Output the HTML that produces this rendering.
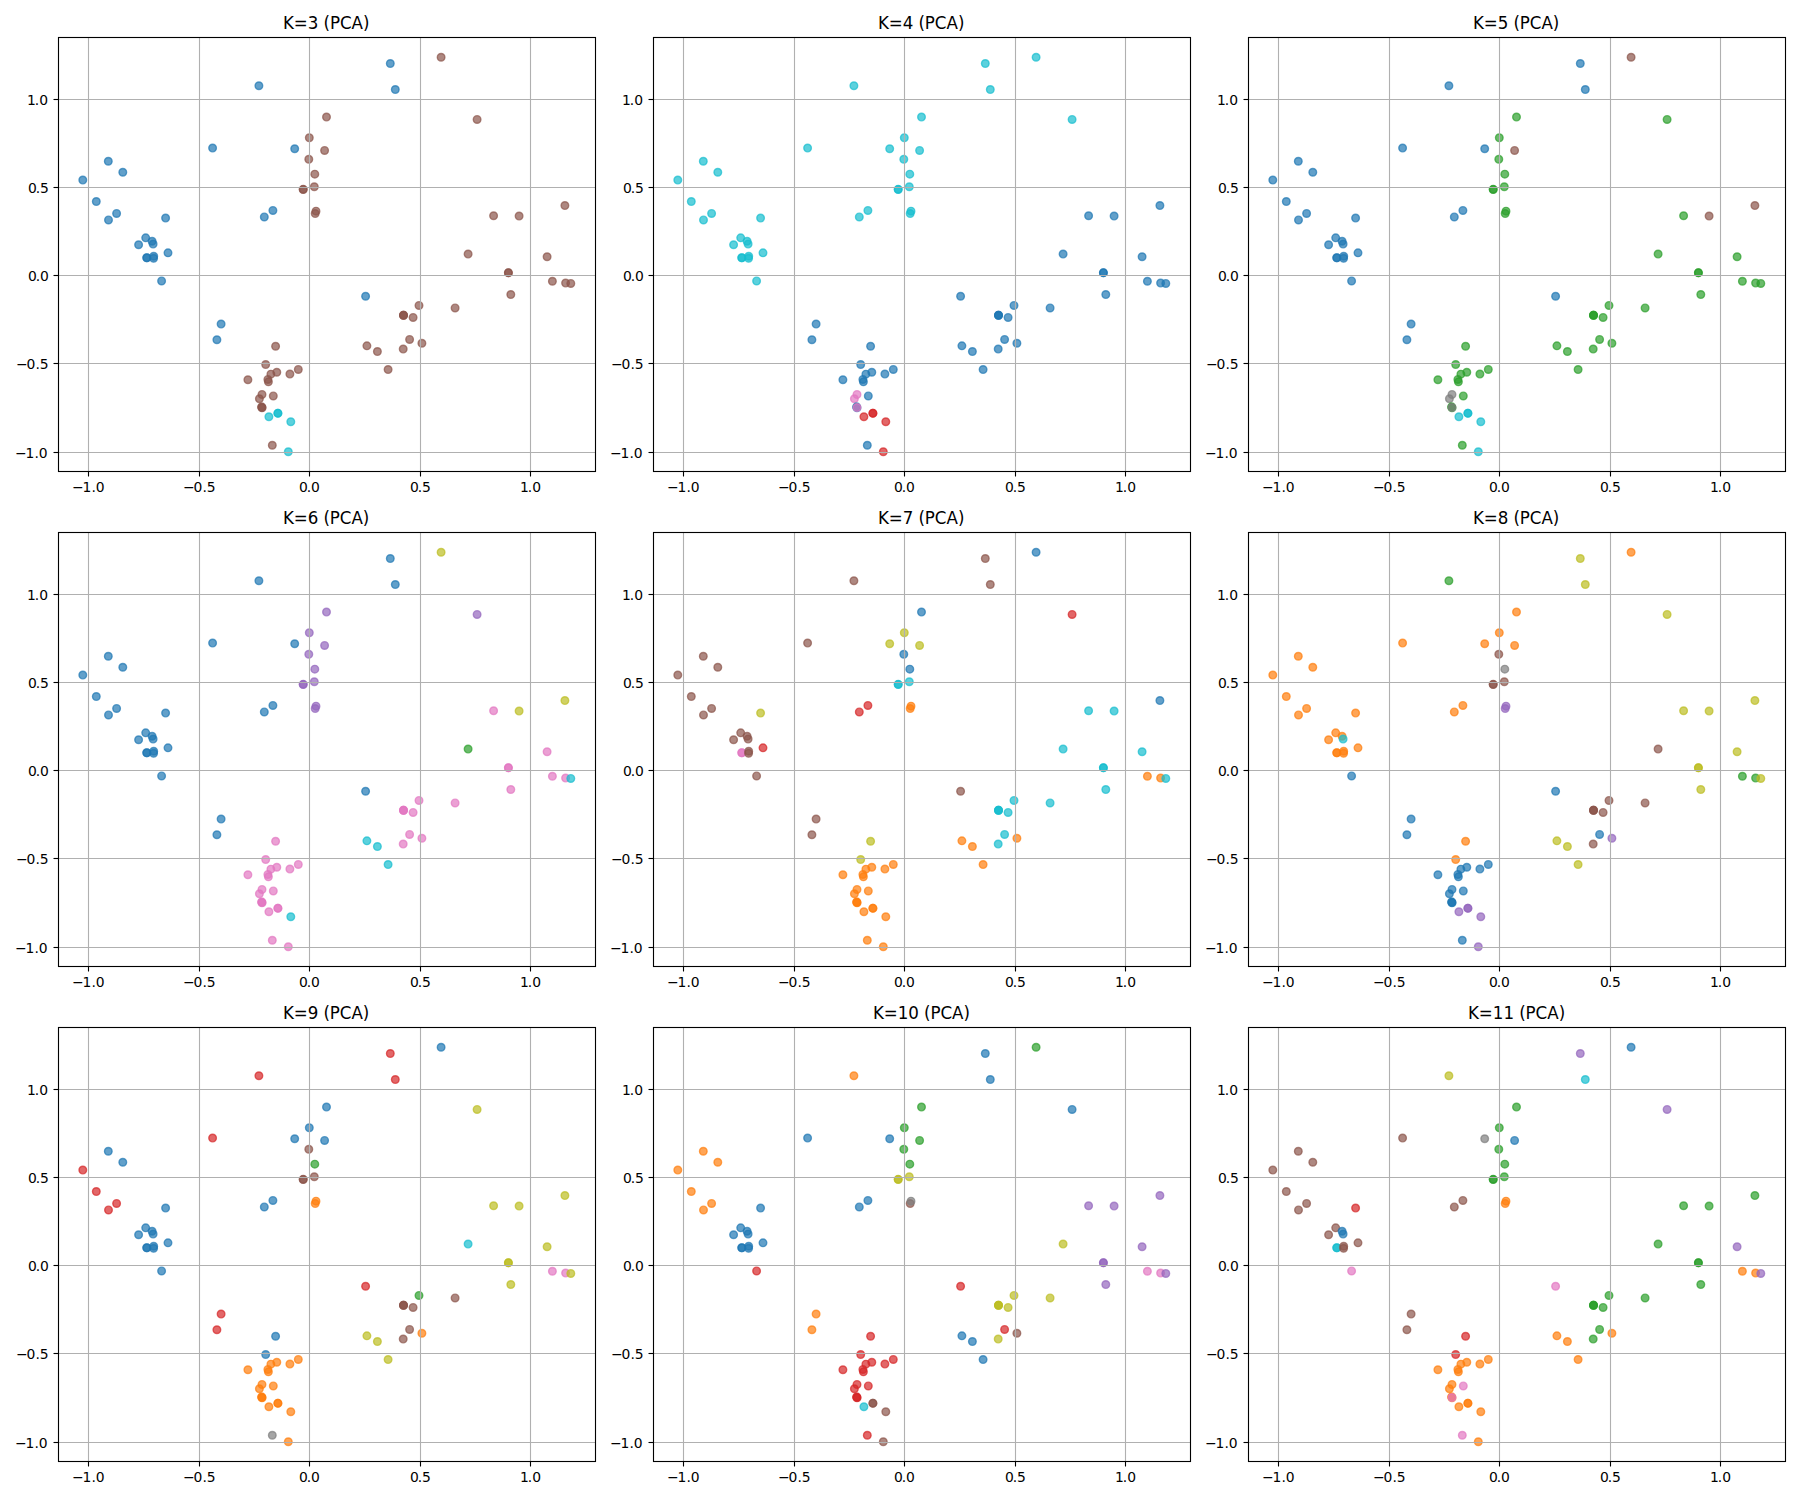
<!DOCTYPE html>
<html><head><meta charset="utf-8"><title>K-means PCA clusters</title>
<style>html,body{margin:0;padding:0;background:#fff;width:1800px;height:1500px;overflow:hidden}</style>
</head><body>
<svg width="1800" height="1500" viewBox="0 0 1800 1500" style="display:block">
<rect x="0" y="0" width="1800" height="1500" fill="#ffffff"/>
<g><circle cx="212.60" cy="148.05" r="3.804" fill="#1f77b4" fill-opacity="0.7" stroke="#1f77b4" stroke-opacity="0.7" stroke-width="1.389"/>
<circle cx="108.30" cy="161.25" r="3.804" fill="#1f77b4" fill-opacity="0.7" stroke="#1f77b4" stroke-opacity="0.7" stroke-width="1.389"/>
<circle cx="122.80" cy="172.25" r="3.804" fill="#1f77b4" fill-opacity="0.7" stroke="#1f77b4" stroke-opacity="0.7" stroke-width="1.389"/>
<circle cx="82.80" cy="180.05" r="3.804" fill="#1f77b4" fill-opacity="0.7" stroke="#1f77b4" stroke-opacity="0.7" stroke-width="1.389"/>
<circle cx="258.90" cy="85.75" r="3.804" fill="#1f77b4" fill-opacity="0.7" stroke="#1f77b4" stroke-opacity="0.7" stroke-width="1.389"/>
<circle cx="390.30" cy="63.55" r="3.804" fill="#1f77b4" fill-opacity="0.7" stroke="#1f77b4" stroke-opacity="0.7" stroke-width="1.389"/>
<circle cx="395.30" cy="89.55" r="3.804" fill="#1f77b4" fill-opacity="0.7" stroke="#1f77b4" stroke-opacity="0.7" stroke-width="1.389"/>
<circle cx="326.50" cy="117.05" r="3.804" fill="#8c564b" fill-opacity="0.7" stroke="#8c564b" stroke-opacity="0.7" stroke-width="1.389"/>
<circle cx="309.30" cy="137.75" r="3.804" fill="#8c564b" fill-opacity="0.7" stroke="#8c564b" stroke-opacity="0.7" stroke-width="1.389"/>
<circle cx="294.70" cy="148.75" r="3.804" fill="#1f77b4" fill-opacity="0.7" stroke="#1f77b4" stroke-opacity="0.7" stroke-width="1.389"/>
<circle cx="324.60" cy="150.45" r="3.804" fill="#8c564b" fill-opacity="0.7" stroke="#8c564b" stroke-opacity="0.7" stroke-width="1.389"/>
<circle cx="308.80" cy="159.25" r="3.804" fill="#8c564b" fill-opacity="0.7" stroke="#8c564b" stroke-opacity="0.7" stroke-width="1.389"/>
<circle cx="314.80" cy="174.15" r="3.804" fill="#8c564b" fill-opacity="0.7" stroke="#8c564b" stroke-opacity="0.7" stroke-width="1.389"/>
<circle cx="441.10" cy="57.25" r="3.804" fill="#8c564b" fill-opacity="0.7" stroke="#8c564b" stroke-opacity="0.7" stroke-width="1.389"/>
<circle cx="477.10" cy="119.45" r="3.804" fill="#8c564b" fill-opacity="0.7" stroke="#8c564b" stroke-opacity="0.7" stroke-width="1.389"/>
<circle cx="96.30" cy="201.55" r="3.804" fill="#1f77b4" fill-opacity="0.7" stroke="#1f77b4" stroke-opacity="0.7" stroke-width="1.389"/>
<circle cx="116.60" cy="213.45" r="3.804" fill="#1f77b4" fill-opacity="0.7" stroke="#1f77b4" stroke-opacity="0.7" stroke-width="1.389"/>
<circle cx="108.50" cy="219.95" r="3.804" fill="#1f77b4" fill-opacity="0.7" stroke="#1f77b4" stroke-opacity="0.7" stroke-width="1.389"/>
<circle cx="165.60" cy="218.05" r="3.804" fill="#1f77b4" fill-opacity="0.7" stroke="#1f77b4" stroke-opacity="0.7" stroke-width="1.389"/>
<circle cx="145.70" cy="237.85" r="3.804" fill="#1f77b4" fill-opacity="0.7" stroke="#1f77b4" stroke-opacity="0.7" stroke-width="1.389"/>
<circle cx="152.10" cy="241.25" r="3.804" fill="#1f77b4" fill-opacity="0.7" stroke="#1f77b4" stroke-opacity="0.7" stroke-width="1.389"/>
<circle cx="153.10" cy="244.05" r="3.804" fill="#1f77b4" fill-opacity="0.7" stroke="#1f77b4" stroke-opacity="0.7" stroke-width="1.389"/>
<circle cx="138.60" cy="244.75" r="3.804" fill="#1f77b4" fill-opacity="0.7" stroke="#1f77b4" stroke-opacity="0.7" stroke-width="1.389"/>
<circle cx="168.00" cy="252.85" r="3.804" fill="#1f77b4" fill-opacity="0.7" stroke="#1f77b4" stroke-opacity="0.7" stroke-width="1.389"/>
<circle cx="146.80" cy="257.80" r="3.804" fill="#1f77b4" fill-opacity="0.7" stroke="#1f77b4" stroke-opacity="0.7" stroke-width="1.389"/>
<circle cx="146.80" cy="257.80" r="3.804" fill="#1f77b4" fill-opacity="0.7" stroke="#1f77b4" stroke-opacity="0.7" stroke-width="1.389"/>
<circle cx="153.70" cy="256.25" r="3.804" fill="#1f77b4" fill-opacity="0.7" stroke="#1f77b4" stroke-opacity="0.7" stroke-width="1.389"/>
<circle cx="153.60" cy="258.35" r="3.804" fill="#1f77b4" fill-opacity="0.7" stroke="#1f77b4" stroke-opacity="0.7" stroke-width="1.389"/>
<circle cx="161.60" cy="280.95" r="3.804" fill="#1f77b4" fill-opacity="0.7" stroke="#1f77b4" stroke-opacity="0.7" stroke-width="1.389"/>
<circle cx="221.10" cy="324.05" r="3.804" fill="#1f77b4" fill-opacity="0.7" stroke="#1f77b4" stroke-opacity="0.7" stroke-width="1.389"/>
<circle cx="216.90" cy="339.75" r="3.804" fill="#1f77b4" fill-opacity="0.7" stroke="#1f77b4" stroke-opacity="0.7" stroke-width="1.389"/>
<circle cx="303.20" cy="189.35" r="3.804" fill="#8c564b" fill-opacity="0.7" stroke="#8c564b" stroke-opacity="0.7" stroke-width="1.389"/>
<circle cx="303.20" cy="189.45" r="3.804" fill="#8c564b" fill-opacity="0.7" stroke="#8c564b" stroke-opacity="0.7" stroke-width="1.389"/>
<circle cx="314.30" cy="186.75" r="3.804" fill="#8c564b" fill-opacity="0.7" stroke="#8c564b" stroke-opacity="0.7" stroke-width="1.389"/>
<circle cx="272.90" cy="210.45" r="3.804" fill="#1f77b4" fill-opacity="0.7" stroke="#1f77b4" stroke-opacity="0.7" stroke-width="1.389"/>
<circle cx="264.30" cy="216.95" r="3.804" fill="#1f77b4" fill-opacity="0.7" stroke="#1f77b4" stroke-opacity="0.7" stroke-width="1.389"/>
<circle cx="315.20" cy="213.55" r="3.804" fill="#8c564b" fill-opacity="0.7" stroke="#8c564b" stroke-opacity="0.7" stroke-width="1.389"/>
<circle cx="316.00" cy="211.15" r="3.804" fill="#8c564b" fill-opacity="0.7" stroke="#8c564b" stroke-opacity="0.7" stroke-width="1.389"/>
<circle cx="365.60" cy="296.25" r="3.804" fill="#1f77b4" fill-opacity="0.7" stroke="#1f77b4" stroke-opacity="0.7" stroke-width="1.389"/>
<circle cx="419.00" cy="305.45" r="3.804" fill="#8c564b" fill-opacity="0.7" stroke="#8c564b" stroke-opacity="0.7" stroke-width="1.389"/>
<circle cx="403.50" cy="315.25" r="3.804" fill="#8c564b" fill-opacity="0.7" stroke="#8c564b" stroke-opacity="0.7" stroke-width="1.389"/>
<circle cx="403.50" cy="315.35" r="3.804" fill="#8c564b" fill-opacity="0.7" stroke="#8c564b" stroke-opacity="0.7" stroke-width="1.389"/>
<circle cx="403.50" cy="315.30" r="3.804" fill="#8c564b" fill-opacity="0.7" stroke="#8c564b" stroke-opacity="0.7" stroke-width="1.389"/>
<circle cx="413.10" cy="317.45" r="3.804" fill="#8c564b" fill-opacity="0.7" stroke="#8c564b" stroke-opacity="0.7" stroke-width="1.389"/>
<circle cx="409.60" cy="339.45" r="3.804" fill="#8c564b" fill-opacity="0.7" stroke="#8c564b" stroke-opacity="0.7" stroke-width="1.389"/>
<circle cx="421.90" cy="343.25" r="3.804" fill="#8c564b" fill-opacity="0.7" stroke="#8c564b" stroke-opacity="0.7" stroke-width="1.389"/>
<circle cx="403.20" cy="349.05" r="3.804" fill="#8c564b" fill-opacity="0.7" stroke="#8c564b" stroke-opacity="0.7" stroke-width="1.389"/>
<circle cx="564.90" cy="205.55" r="3.804" fill="#8c564b" fill-opacity="0.7" stroke="#8c564b" stroke-opacity="0.7" stroke-width="1.389"/>
<circle cx="493.60" cy="215.75" r="3.804" fill="#8c564b" fill-opacity="0.7" stroke="#8c564b" stroke-opacity="0.7" stroke-width="1.389"/>
<circle cx="519.10" cy="216.05" r="3.804" fill="#8c564b" fill-opacity="0.7" stroke="#8c564b" stroke-opacity="0.7" stroke-width="1.389"/>
<circle cx="468.10" cy="254.05" r="3.804" fill="#8c564b" fill-opacity="0.7" stroke="#8c564b" stroke-opacity="0.7" stroke-width="1.389"/>
<circle cx="547.10" cy="256.75" r="3.804" fill="#8c564b" fill-opacity="0.7" stroke="#8c564b" stroke-opacity="0.7" stroke-width="1.389"/>
<circle cx="508.40" cy="272.65" r="3.804" fill="#8c564b" fill-opacity="0.7" stroke="#8c564b" stroke-opacity="0.7" stroke-width="1.389"/>
<circle cx="508.40" cy="272.85" r="3.804" fill="#8c564b" fill-opacity="0.7" stroke="#8c564b" stroke-opacity="0.7" stroke-width="1.389"/>
<circle cx="552.40" cy="281.25" r="3.804" fill="#8c564b" fill-opacity="0.7" stroke="#8c564b" stroke-opacity="0.7" stroke-width="1.389"/>
<circle cx="565.60" cy="283.05" r="3.804" fill="#8c564b" fill-opacity="0.7" stroke="#8c564b" stroke-opacity="0.7" stroke-width="1.389"/>
<circle cx="570.80" cy="283.45" r="3.804" fill="#8c564b" fill-opacity="0.7" stroke="#8c564b" stroke-opacity="0.7" stroke-width="1.389"/>
<circle cx="510.80" cy="294.55" r="3.804" fill="#8c564b" fill-opacity="0.7" stroke="#8c564b" stroke-opacity="0.7" stroke-width="1.389"/>
<circle cx="455.10" cy="307.95" r="3.804" fill="#8c564b" fill-opacity="0.7" stroke="#8c564b" stroke-opacity="0.7" stroke-width="1.389"/>
<circle cx="275.60" cy="346.25" r="3.804" fill="#8c564b" fill-opacity="0.7" stroke="#8c564b" stroke-opacity="0.7" stroke-width="1.389"/>
<circle cx="265.70" cy="364.55" r="3.804" fill="#8c564b" fill-opacity="0.7" stroke="#8c564b" stroke-opacity="0.7" stroke-width="1.389"/>
<circle cx="270.90" cy="374.15" r="3.804" fill="#8c564b" fill-opacity="0.7" stroke="#8c564b" stroke-opacity="0.7" stroke-width="1.389"/>
<circle cx="276.80" cy="372.25" r="3.804" fill="#8c564b" fill-opacity="0.7" stroke="#8c564b" stroke-opacity="0.7" stroke-width="1.389"/>
<circle cx="289.90" cy="374.05" r="3.804" fill="#8c564b" fill-opacity="0.7" stroke="#8c564b" stroke-opacity="0.7" stroke-width="1.389"/>
<circle cx="298.30" cy="369.45" r="3.804" fill="#8c564b" fill-opacity="0.7" stroke="#8c564b" stroke-opacity="0.7" stroke-width="1.389"/>
<circle cx="247.90" cy="379.75" r="3.804" fill="#8c564b" fill-opacity="0.7" stroke="#8c564b" stroke-opacity="0.7" stroke-width="1.389"/>
<circle cx="267.90" cy="379.45" r="3.804" fill="#8c564b" fill-opacity="0.7" stroke="#8c564b" stroke-opacity="0.7" stroke-width="1.389"/>
<circle cx="268.40" cy="381.85" r="3.804" fill="#8c564b" fill-opacity="0.7" stroke="#8c564b" stroke-opacity="0.7" stroke-width="1.389"/>
<circle cx="262.00" cy="394.45" r="3.804" fill="#8c564b" fill-opacity="0.7" stroke="#8c564b" stroke-opacity="0.7" stroke-width="1.389"/>
<circle cx="259.40" cy="398.75" r="3.804" fill="#8c564b" fill-opacity="0.7" stroke="#8c564b" stroke-opacity="0.7" stroke-width="1.389"/>
<circle cx="273.30" cy="395.95" r="3.804" fill="#8c564b" fill-opacity="0.7" stroke="#8c564b" stroke-opacity="0.7" stroke-width="1.389"/>
<circle cx="261.60" cy="406.85" r="3.804" fill="#8c564b" fill-opacity="0.7" stroke="#8c564b" stroke-opacity="0.7" stroke-width="1.389"/>
<circle cx="262.00" cy="407.70" r="3.804" fill="#8c564b" fill-opacity="0.7" stroke="#8c564b" stroke-opacity="0.7" stroke-width="1.389"/>
<circle cx="262.00" cy="407.55" r="3.804" fill="#8c564b" fill-opacity="0.7" stroke="#8c564b" stroke-opacity="0.7" stroke-width="1.389"/>
<circle cx="277.90" cy="413.15" r="3.804" fill="#17becf" fill-opacity="0.7" stroke="#17becf" stroke-opacity="0.7" stroke-width="1.389"/>
<circle cx="277.90" cy="413.35" r="3.804" fill="#17becf" fill-opacity="0.7" stroke="#17becf" stroke-opacity="0.7" stroke-width="1.389"/>
<circle cx="268.90" cy="416.75" r="3.804" fill="#17becf" fill-opacity="0.7" stroke="#17becf" stroke-opacity="0.7" stroke-width="1.389"/>
<circle cx="290.80" cy="421.75" r="3.804" fill="#17becf" fill-opacity="0.7" stroke="#17becf" stroke-opacity="0.7" stroke-width="1.389"/>
<circle cx="288.30" cy="451.75" r="3.804" fill="#17becf" fill-opacity="0.7" stroke="#17becf" stroke-opacity="0.7" stroke-width="1.389"/>
<circle cx="272.30" cy="445.25" r="3.804" fill="#8c564b" fill-opacity="0.7" stroke="#8c564b" stroke-opacity="0.7" stroke-width="1.389"/>
<circle cx="366.90" cy="345.85" r="3.804" fill="#8c564b" fill-opacity="0.7" stroke="#8c564b" stroke-opacity="0.7" stroke-width="1.389"/>
<circle cx="377.40" cy="351.55" r="3.804" fill="#8c564b" fill-opacity="0.7" stroke="#8c564b" stroke-opacity="0.7" stroke-width="1.389"/>
<circle cx="388.10" cy="369.55" r="3.804" fill="#8c564b" fill-opacity="0.7" stroke="#8c564b" stroke-opacity="0.7" stroke-width="1.389"/>
<line x1="88.5" y1="37.33" x2="88.5" y2="471.28" stroke="#b0b0b0" stroke-width="1.111"/>
<line x1="199.5" y1="37.33" x2="199.5" y2="471.28" stroke="#b0b0b0" stroke-width="1.111"/>
<line x1="309.5" y1="37.33" x2="309.5" y2="471.28" stroke="#b0b0b0" stroke-width="1.111"/>
<line x1="420.5" y1="37.33" x2="420.5" y2="471.28" stroke="#b0b0b0" stroke-width="1.111"/>
<line x1="530.5" y1="37.33" x2="530.5" y2="471.28" stroke="#b0b0b0" stroke-width="1.111"/>
<line x1="58.35" y1="452.5" x2="595.00" y2="452.5" stroke="#b0b0b0" stroke-width="1.111"/>
<line x1="58.35" y1="363.5" x2="595.00" y2="363.5" stroke="#b0b0b0" stroke-width="1.111"/>
<line x1="58.35" y1="275.5" x2="595.00" y2="275.5" stroke="#b0b0b0" stroke-width="1.111"/>
<line x1="58.35" y1="187.5" x2="595.00" y2="187.5" stroke="#b0b0b0" stroke-width="1.111"/>
<line x1="58.35" y1="99.5" x2="595.00" y2="99.5" stroke="#b0b0b0" stroke-width="1.111"/>
<rect x="58.5" y="37.5" width="537.0" height="434.0" fill="none" stroke="#000" stroke-width="1.111" stroke-linecap="square"/>
<line x1="88.5" y1="471.5" x2="88.5" y2="476.5" stroke="#000" stroke-width="1.111"/>
<text x="72.07 82.62 91.57 95.82" y="0" transform="translate(0 492.0) scale(1 0.987)" style="font-size:13.889px;font-family:'DejaVu Sans',sans-serif">−1.0</text>
<line x1="53.5" y1="452.5" x2="58.5" y2="452.5" stroke="#000" stroke-width="1.111"/>
<text x="15.07 25.62 34.57 38.82" y="0" transform="translate(0 458.0) scale(1 0.987)" style="font-size:13.889px;font-family:'DejaVu Sans',sans-serif">−1.0</text>
<line x1="199.5" y1="471.5" x2="199.5" y2="476.5" stroke="#000" stroke-width="1.111"/>
<text x="182.99 193.54 202.39 206.74" y="0" transform="translate(0 492.0) scale(1 0.987)" style="font-size:13.889px;font-family:'DejaVu Sans',sans-serif">−0.5</text>
<line x1="53.5" y1="363.5" x2="58.5" y2="363.5" stroke="#000" stroke-width="1.111"/>
<text x="15.99 26.54 35.39 39.74" y="0" transform="translate(0 369.0) scale(1 0.987)" style="font-size:13.889px;font-family:'DejaVu Sans',sans-serif">−0.5</text>
<line x1="309.5" y1="471.5" x2="309.5" y2="476.5" stroke="#000" stroke-width="1.111"/>
<text x="298.95 306.75 311.07" y="0" transform="translate(0 492.0) scale(1 0.987)" style="font-size:13.889px;font-family:'DejaVu Sans',sans-serif">0.0</text>
<line x1="53.5" y1="275.5" x2="58.5" y2="275.5" stroke="#000" stroke-width="1.111"/>
<text x="27.95 35.75 40.07" y="0" transform="translate(0 281.0) scale(1 0.987)" style="font-size:13.889px;font-family:'DejaVu Sans',sans-serif">0.0</text>
<line x1="420.5" y1="471.5" x2="420.5" y2="476.5" stroke="#000" stroke-width="1.111"/>
<text x="409.95 417.75 422.10" y="0" transform="translate(0 492.0) scale(1 0.987)" style="font-size:13.889px;font-family:'DejaVu Sans',sans-serif">0.5</text>
<line x1="53.5" y1="187.5" x2="58.5" y2="187.5" stroke="#000" stroke-width="1.111"/>
<text x="27.95 35.75 40.10" y="0" transform="translate(0 193.0) scale(1 0.987)" style="font-size:13.889px;font-family:'DejaVu Sans',sans-serif">0.5</text>
<line x1="530.5" y1="471.5" x2="530.5" y2="476.5" stroke="#000" stroke-width="1.111"/>
<text x="520.07 527.84 532.18" y="0" transform="translate(0 492.0) scale(1 0.987)" style="font-size:13.889px;font-family:'DejaVu Sans',sans-serif">1.0</text>
<line x1="53.5" y1="99.5" x2="58.5" y2="99.5" stroke="#000" stroke-width="1.111"/>
<text x="27.07 34.84 39.18" y="0" transform="translate(0 105.0) scale(1 0.987)" style="font-size:13.889px;font-family:'DejaVu Sans',sans-serif">1.0</text>
<text x="282.97 293.82 307.73 312.73 323.58 330.01 339.94 351.61 362.99" y="0" transform="translate(0 29.0) scale(1 1.07)" style="font-size:16.667px;font-family:'DejaVu Sans',sans-serif">K=3 (PCA)</text></g>
<g><circle cx="807.60" cy="148.05" r="3.804" fill="#17becf" fill-opacity="0.7" stroke="#17becf" stroke-opacity="0.7" stroke-width="1.389"/>
<circle cx="703.30" cy="161.25" r="3.804" fill="#17becf" fill-opacity="0.7" stroke="#17becf" stroke-opacity="0.7" stroke-width="1.389"/>
<circle cx="717.80" cy="172.25" r="3.804" fill="#17becf" fill-opacity="0.7" stroke="#17becf" stroke-opacity="0.7" stroke-width="1.389"/>
<circle cx="677.80" cy="180.05" r="3.804" fill="#17becf" fill-opacity="0.7" stroke="#17becf" stroke-opacity="0.7" stroke-width="1.389"/>
<circle cx="853.90" cy="85.75" r="3.804" fill="#17becf" fill-opacity="0.7" stroke="#17becf" stroke-opacity="0.7" stroke-width="1.389"/>
<circle cx="985.30" cy="63.55" r="3.804" fill="#17becf" fill-opacity="0.7" stroke="#17becf" stroke-opacity="0.7" stroke-width="1.389"/>
<circle cx="990.30" cy="89.55" r="3.804" fill="#17becf" fill-opacity="0.7" stroke="#17becf" stroke-opacity="0.7" stroke-width="1.389"/>
<circle cx="921.50" cy="117.05" r="3.804" fill="#17becf" fill-opacity="0.7" stroke="#17becf" stroke-opacity="0.7" stroke-width="1.389"/>
<circle cx="904.30" cy="137.75" r="3.804" fill="#17becf" fill-opacity="0.7" stroke="#17becf" stroke-opacity="0.7" stroke-width="1.389"/>
<circle cx="889.70" cy="148.75" r="3.804" fill="#17becf" fill-opacity="0.7" stroke="#17becf" stroke-opacity="0.7" stroke-width="1.389"/>
<circle cx="919.60" cy="150.45" r="3.804" fill="#17becf" fill-opacity="0.7" stroke="#17becf" stroke-opacity="0.7" stroke-width="1.389"/>
<circle cx="903.80" cy="159.25" r="3.804" fill="#17becf" fill-opacity="0.7" stroke="#17becf" stroke-opacity="0.7" stroke-width="1.389"/>
<circle cx="909.80" cy="174.15" r="3.804" fill="#17becf" fill-opacity="0.7" stroke="#17becf" stroke-opacity="0.7" stroke-width="1.389"/>
<circle cx="1036.10" cy="57.25" r="3.804" fill="#17becf" fill-opacity="0.7" stroke="#17becf" stroke-opacity="0.7" stroke-width="1.389"/>
<circle cx="1072.10" cy="119.45" r="3.804" fill="#17becf" fill-opacity="0.7" stroke="#17becf" stroke-opacity="0.7" stroke-width="1.389"/>
<circle cx="691.30" cy="201.55" r="3.804" fill="#17becf" fill-opacity="0.7" stroke="#17becf" stroke-opacity="0.7" stroke-width="1.389"/>
<circle cx="711.60" cy="213.45" r="3.804" fill="#17becf" fill-opacity="0.7" stroke="#17becf" stroke-opacity="0.7" stroke-width="1.389"/>
<circle cx="703.50" cy="219.95" r="3.804" fill="#17becf" fill-opacity="0.7" stroke="#17becf" stroke-opacity="0.7" stroke-width="1.389"/>
<circle cx="760.60" cy="218.05" r="3.804" fill="#17becf" fill-opacity="0.7" stroke="#17becf" stroke-opacity="0.7" stroke-width="1.389"/>
<circle cx="740.70" cy="237.85" r="3.804" fill="#17becf" fill-opacity="0.7" stroke="#17becf" stroke-opacity="0.7" stroke-width="1.389"/>
<circle cx="747.10" cy="241.25" r="3.804" fill="#17becf" fill-opacity="0.7" stroke="#17becf" stroke-opacity="0.7" stroke-width="1.389"/>
<circle cx="748.10" cy="244.05" r="3.804" fill="#17becf" fill-opacity="0.7" stroke="#17becf" stroke-opacity="0.7" stroke-width="1.389"/>
<circle cx="733.60" cy="244.75" r="3.804" fill="#17becf" fill-opacity="0.7" stroke="#17becf" stroke-opacity="0.7" stroke-width="1.389"/>
<circle cx="763.00" cy="252.85" r="3.804" fill="#17becf" fill-opacity="0.7" stroke="#17becf" stroke-opacity="0.7" stroke-width="1.389"/>
<circle cx="741.80" cy="257.80" r="3.804" fill="#17becf" fill-opacity="0.7" stroke="#17becf" stroke-opacity="0.7" stroke-width="1.389"/>
<circle cx="741.80" cy="257.80" r="3.804" fill="#17becf" fill-opacity="0.7" stroke="#17becf" stroke-opacity="0.7" stroke-width="1.389"/>
<circle cx="748.70" cy="256.25" r="3.804" fill="#17becf" fill-opacity="0.7" stroke="#17becf" stroke-opacity="0.7" stroke-width="1.389"/>
<circle cx="748.60" cy="258.35" r="3.804" fill="#17becf" fill-opacity="0.7" stroke="#17becf" stroke-opacity="0.7" stroke-width="1.389"/>
<circle cx="756.60" cy="280.95" r="3.804" fill="#17becf" fill-opacity="0.7" stroke="#17becf" stroke-opacity="0.7" stroke-width="1.389"/>
<circle cx="816.10" cy="324.05" r="3.804" fill="#1f77b4" fill-opacity="0.7" stroke="#1f77b4" stroke-opacity="0.7" stroke-width="1.389"/>
<circle cx="811.90" cy="339.75" r="3.804" fill="#1f77b4" fill-opacity="0.7" stroke="#1f77b4" stroke-opacity="0.7" stroke-width="1.389"/>
<circle cx="898.20" cy="189.35" r="3.804" fill="#17becf" fill-opacity="0.7" stroke="#17becf" stroke-opacity="0.7" stroke-width="1.389"/>
<circle cx="898.20" cy="189.45" r="3.804" fill="#17becf" fill-opacity="0.7" stroke="#17becf" stroke-opacity="0.7" stroke-width="1.389"/>
<circle cx="909.30" cy="186.75" r="3.804" fill="#17becf" fill-opacity="0.7" stroke="#17becf" stroke-opacity="0.7" stroke-width="1.389"/>
<circle cx="867.90" cy="210.45" r="3.804" fill="#17becf" fill-opacity="0.7" stroke="#17becf" stroke-opacity="0.7" stroke-width="1.389"/>
<circle cx="859.30" cy="216.95" r="3.804" fill="#17becf" fill-opacity="0.7" stroke="#17becf" stroke-opacity="0.7" stroke-width="1.389"/>
<circle cx="910.20" cy="213.55" r="3.804" fill="#17becf" fill-opacity="0.7" stroke="#17becf" stroke-opacity="0.7" stroke-width="1.389"/>
<circle cx="911.00" cy="211.15" r="3.804" fill="#17becf" fill-opacity="0.7" stroke="#17becf" stroke-opacity="0.7" stroke-width="1.389"/>
<circle cx="960.60" cy="296.25" r="3.804" fill="#1f77b4" fill-opacity="0.7" stroke="#1f77b4" stroke-opacity="0.7" stroke-width="1.389"/>
<circle cx="1014.00" cy="305.45" r="3.804" fill="#1f77b4" fill-opacity="0.7" stroke="#1f77b4" stroke-opacity="0.7" stroke-width="1.389"/>
<circle cx="998.50" cy="315.25" r="3.804" fill="#1f77b4" fill-opacity="0.7" stroke="#1f77b4" stroke-opacity="0.7" stroke-width="1.389"/>
<circle cx="998.50" cy="315.35" r="3.804" fill="#1f77b4" fill-opacity="0.7" stroke="#1f77b4" stroke-opacity="0.7" stroke-width="1.389"/>
<circle cx="998.50" cy="315.30" r="3.804" fill="#1f77b4" fill-opacity="0.7" stroke="#1f77b4" stroke-opacity="0.7" stroke-width="1.389"/>
<circle cx="1008.10" cy="317.45" r="3.804" fill="#1f77b4" fill-opacity="0.7" stroke="#1f77b4" stroke-opacity="0.7" stroke-width="1.389"/>
<circle cx="1004.60" cy="339.45" r="3.804" fill="#1f77b4" fill-opacity="0.7" stroke="#1f77b4" stroke-opacity="0.7" stroke-width="1.389"/>
<circle cx="1016.90" cy="343.25" r="3.804" fill="#1f77b4" fill-opacity="0.7" stroke="#1f77b4" stroke-opacity="0.7" stroke-width="1.389"/>
<circle cx="998.20" cy="349.05" r="3.804" fill="#1f77b4" fill-opacity="0.7" stroke="#1f77b4" stroke-opacity="0.7" stroke-width="1.389"/>
<circle cx="1159.90" cy="205.55" r="3.804" fill="#1f77b4" fill-opacity="0.7" stroke="#1f77b4" stroke-opacity="0.7" stroke-width="1.389"/>
<circle cx="1088.60" cy="215.75" r="3.804" fill="#1f77b4" fill-opacity="0.7" stroke="#1f77b4" stroke-opacity="0.7" stroke-width="1.389"/>
<circle cx="1114.10" cy="216.05" r="3.804" fill="#1f77b4" fill-opacity="0.7" stroke="#1f77b4" stroke-opacity="0.7" stroke-width="1.389"/>
<circle cx="1063.10" cy="254.05" r="3.804" fill="#1f77b4" fill-opacity="0.7" stroke="#1f77b4" stroke-opacity="0.7" stroke-width="1.389"/>
<circle cx="1142.10" cy="256.75" r="3.804" fill="#1f77b4" fill-opacity="0.7" stroke="#1f77b4" stroke-opacity="0.7" stroke-width="1.389"/>
<circle cx="1103.40" cy="272.65" r="3.804" fill="#1f77b4" fill-opacity="0.7" stroke="#1f77b4" stroke-opacity="0.7" stroke-width="1.389"/>
<circle cx="1103.40" cy="272.85" r="3.804" fill="#1f77b4" fill-opacity="0.7" stroke="#1f77b4" stroke-opacity="0.7" stroke-width="1.389"/>
<circle cx="1147.40" cy="281.25" r="3.804" fill="#1f77b4" fill-opacity="0.7" stroke="#1f77b4" stroke-opacity="0.7" stroke-width="1.389"/>
<circle cx="1160.60" cy="283.05" r="3.804" fill="#1f77b4" fill-opacity="0.7" stroke="#1f77b4" stroke-opacity="0.7" stroke-width="1.389"/>
<circle cx="1165.80" cy="283.45" r="3.804" fill="#1f77b4" fill-opacity="0.7" stroke="#1f77b4" stroke-opacity="0.7" stroke-width="1.389"/>
<circle cx="1105.80" cy="294.55" r="3.804" fill="#1f77b4" fill-opacity="0.7" stroke="#1f77b4" stroke-opacity="0.7" stroke-width="1.389"/>
<circle cx="1050.10" cy="307.95" r="3.804" fill="#1f77b4" fill-opacity="0.7" stroke="#1f77b4" stroke-opacity="0.7" stroke-width="1.389"/>
<circle cx="870.60" cy="346.25" r="3.804" fill="#1f77b4" fill-opacity="0.7" stroke="#1f77b4" stroke-opacity="0.7" stroke-width="1.389"/>
<circle cx="860.70" cy="364.55" r="3.804" fill="#1f77b4" fill-opacity="0.7" stroke="#1f77b4" stroke-opacity="0.7" stroke-width="1.389"/>
<circle cx="865.90" cy="374.15" r="3.804" fill="#1f77b4" fill-opacity="0.7" stroke="#1f77b4" stroke-opacity="0.7" stroke-width="1.389"/>
<circle cx="871.80" cy="372.25" r="3.804" fill="#1f77b4" fill-opacity="0.7" stroke="#1f77b4" stroke-opacity="0.7" stroke-width="1.389"/>
<circle cx="884.90" cy="374.05" r="3.804" fill="#1f77b4" fill-opacity="0.7" stroke="#1f77b4" stroke-opacity="0.7" stroke-width="1.389"/>
<circle cx="893.30" cy="369.45" r="3.804" fill="#1f77b4" fill-opacity="0.7" stroke="#1f77b4" stroke-opacity="0.7" stroke-width="1.389"/>
<circle cx="842.90" cy="379.75" r="3.804" fill="#1f77b4" fill-opacity="0.7" stroke="#1f77b4" stroke-opacity="0.7" stroke-width="1.389"/>
<circle cx="862.90" cy="379.45" r="3.804" fill="#1f77b4" fill-opacity="0.7" stroke="#1f77b4" stroke-opacity="0.7" stroke-width="1.389"/>
<circle cx="863.40" cy="381.85" r="3.804" fill="#1f77b4" fill-opacity="0.7" stroke="#1f77b4" stroke-opacity="0.7" stroke-width="1.389"/>
<circle cx="857.00" cy="394.45" r="3.804" fill="#e377c2" fill-opacity="0.7" stroke="#e377c2" stroke-opacity="0.7" stroke-width="1.389"/>
<circle cx="854.40" cy="398.75" r="3.804" fill="#e377c2" fill-opacity="0.7" stroke="#e377c2" stroke-opacity="0.7" stroke-width="1.389"/>
<circle cx="868.30" cy="395.95" r="3.804" fill="#1f77b4" fill-opacity="0.7" stroke="#1f77b4" stroke-opacity="0.7" stroke-width="1.389"/>
<circle cx="856.60" cy="406.85" r="3.804" fill="#1f77b4" fill-opacity="0.7" stroke="#1f77b4" stroke-opacity="0.7" stroke-width="1.389"/>
<circle cx="857.00" cy="407.70" r="3.804" fill="#1f77b4" fill-opacity="0.7" stroke="#1f77b4" stroke-opacity="0.7" stroke-width="1.389"/>
<circle cx="857.00" cy="407.55" r="3.804" fill="#e377c2" fill-opacity="0.7" stroke="#e377c2" stroke-opacity="0.7" stroke-width="1.389"/>
<circle cx="872.90" cy="413.15" r="3.804" fill="#d62728" fill-opacity="0.7" stroke="#d62728" stroke-opacity="0.7" stroke-width="1.389"/>
<circle cx="872.90" cy="413.35" r="3.804" fill="#d62728" fill-opacity="0.7" stroke="#d62728" stroke-opacity="0.7" stroke-width="1.389"/>
<circle cx="863.90" cy="416.75" r="3.804" fill="#d62728" fill-opacity="0.7" stroke="#d62728" stroke-opacity="0.7" stroke-width="1.389"/>
<circle cx="885.80" cy="421.75" r="3.804" fill="#d62728" fill-opacity="0.7" stroke="#d62728" stroke-opacity="0.7" stroke-width="1.389"/>
<circle cx="883.30" cy="451.75" r="3.804" fill="#d62728" fill-opacity="0.7" stroke="#d62728" stroke-opacity="0.7" stroke-width="1.389"/>
<circle cx="867.30" cy="445.25" r="3.804" fill="#1f77b4" fill-opacity="0.7" stroke="#1f77b4" stroke-opacity="0.7" stroke-width="1.389"/>
<circle cx="961.90" cy="345.85" r="3.804" fill="#1f77b4" fill-opacity="0.7" stroke="#1f77b4" stroke-opacity="0.7" stroke-width="1.389"/>
<circle cx="972.40" cy="351.55" r="3.804" fill="#1f77b4" fill-opacity="0.7" stroke="#1f77b4" stroke-opacity="0.7" stroke-width="1.389"/>
<circle cx="983.10" cy="369.55" r="3.804" fill="#1f77b4" fill-opacity="0.7" stroke="#1f77b4" stroke-opacity="0.7" stroke-width="1.389"/>
<line x1="683.5" y1="37.33" x2="683.5" y2="471.28" stroke="#b0b0b0" stroke-width="1.111"/>
<line x1="794.5" y1="37.33" x2="794.5" y2="471.28" stroke="#b0b0b0" stroke-width="1.111"/>
<line x1="904.5" y1="37.33" x2="904.5" y2="471.28" stroke="#b0b0b0" stroke-width="1.111"/>
<line x1="1015.5" y1="37.33" x2="1015.5" y2="471.28" stroke="#b0b0b0" stroke-width="1.111"/>
<line x1="1125.5" y1="37.33" x2="1125.5" y2="471.28" stroke="#b0b0b0" stroke-width="1.111"/>
<line x1="653.35" y1="452.5" x2="1190.00" y2="452.5" stroke="#b0b0b0" stroke-width="1.111"/>
<line x1="653.35" y1="363.5" x2="1190.00" y2="363.5" stroke="#b0b0b0" stroke-width="1.111"/>
<line x1="653.35" y1="275.5" x2="1190.00" y2="275.5" stroke="#b0b0b0" stroke-width="1.111"/>
<line x1="653.35" y1="187.5" x2="1190.00" y2="187.5" stroke="#b0b0b0" stroke-width="1.111"/>
<line x1="653.35" y1="99.5" x2="1190.00" y2="99.5" stroke="#b0b0b0" stroke-width="1.111"/>
<rect x="653.5" y="37.5" width="537.0" height="434.0" fill="none" stroke="#000" stroke-width="1.111" stroke-linecap="square"/>
<line x1="683.5" y1="471.5" x2="683.5" y2="476.5" stroke="#000" stroke-width="1.111"/>
<text x="667.07 677.62 686.57 690.82" y="0" transform="translate(0 492.0) scale(1 0.987)" style="font-size:13.889px;font-family:'DejaVu Sans',sans-serif">−1.0</text>
<line x1="648.5" y1="452.5" x2="653.5" y2="452.5" stroke="#000" stroke-width="1.111"/>
<text x="610.07 620.62 629.57 633.82" y="0" transform="translate(0 458.0) scale(1 0.987)" style="font-size:13.889px;font-family:'DejaVu Sans',sans-serif">−1.0</text>
<line x1="794.5" y1="471.5" x2="794.5" y2="476.5" stroke="#000" stroke-width="1.111"/>
<text x="777.99 788.54 797.39 801.74" y="0" transform="translate(0 492.0) scale(1 0.987)" style="font-size:13.889px;font-family:'DejaVu Sans',sans-serif">−0.5</text>
<line x1="648.5" y1="363.5" x2="653.5" y2="363.5" stroke="#000" stroke-width="1.111"/>
<text x="610.99 621.54 630.39 634.74" y="0" transform="translate(0 369.0) scale(1 0.987)" style="font-size:13.889px;font-family:'DejaVu Sans',sans-serif">−0.5</text>
<line x1="904.5" y1="471.5" x2="904.5" y2="476.5" stroke="#000" stroke-width="1.111"/>
<text x="893.95 901.75 906.07" y="0" transform="translate(0 492.0) scale(1 0.987)" style="font-size:13.889px;font-family:'DejaVu Sans',sans-serif">0.0</text>
<line x1="648.5" y1="275.5" x2="653.5" y2="275.5" stroke="#000" stroke-width="1.111"/>
<text x="622.95 630.75 635.07" y="0" transform="translate(0 281.0) scale(1 0.987)" style="font-size:13.889px;font-family:'DejaVu Sans',sans-serif">0.0</text>
<line x1="1015.5" y1="471.5" x2="1015.5" y2="476.5" stroke="#000" stroke-width="1.111"/>
<text x="1004.95 1012.75 1017.10" y="0" transform="translate(0 492.0) scale(1 0.987)" style="font-size:13.889px;font-family:'DejaVu Sans',sans-serif">0.5</text>
<line x1="648.5" y1="187.5" x2="653.5" y2="187.5" stroke="#000" stroke-width="1.111"/>
<text x="622.95 630.75 635.10" y="0" transform="translate(0 193.0) scale(1 0.987)" style="font-size:13.889px;font-family:'DejaVu Sans',sans-serif">0.5</text>
<line x1="1125.5" y1="471.5" x2="1125.5" y2="476.5" stroke="#000" stroke-width="1.111"/>
<text x="1115.07 1122.84 1127.18" y="0" transform="translate(0 492.0) scale(1 0.987)" style="font-size:13.889px;font-family:'DejaVu Sans',sans-serif">1.0</text>
<line x1="648.5" y1="99.5" x2="653.5" y2="99.5" stroke="#000" stroke-width="1.111"/>
<text x="622.07 629.84 634.18" y="0" transform="translate(0 105.0) scale(1 0.987)" style="font-size:13.889px;font-family:'DejaVu Sans',sans-serif">1.0</text>
<text x="877.97 888.82 902.67 907.67 918.46 924.87 934.82 946.49 957.88" y="0" transform="translate(0 29.0) scale(1 1.07)" style="font-size:16.667px;font-family:'DejaVu Sans',sans-serif">K=4 (PCA)</text></g>
<g><circle cx="1402.60" cy="148.05" r="3.804" fill="#1f77b4" fill-opacity="0.7" stroke="#1f77b4" stroke-opacity="0.7" stroke-width="1.389"/>
<circle cx="1298.30" cy="161.25" r="3.804" fill="#1f77b4" fill-opacity="0.7" stroke="#1f77b4" stroke-opacity="0.7" stroke-width="1.389"/>
<circle cx="1312.80" cy="172.25" r="3.804" fill="#1f77b4" fill-opacity="0.7" stroke="#1f77b4" stroke-opacity="0.7" stroke-width="1.389"/>
<circle cx="1272.80" cy="180.05" r="3.804" fill="#1f77b4" fill-opacity="0.7" stroke="#1f77b4" stroke-opacity="0.7" stroke-width="1.389"/>
<circle cx="1448.90" cy="85.75" r="3.804" fill="#1f77b4" fill-opacity="0.7" stroke="#1f77b4" stroke-opacity="0.7" stroke-width="1.389"/>
<circle cx="1580.30" cy="63.55" r="3.804" fill="#1f77b4" fill-opacity="0.7" stroke="#1f77b4" stroke-opacity="0.7" stroke-width="1.389"/>
<circle cx="1585.30" cy="89.55" r="3.804" fill="#1f77b4" fill-opacity="0.7" stroke="#1f77b4" stroke-opacity="0.7" stroke-width="1.389"/>
<circle cx="1516.50" cy="117.05" r="3.804" fill="#2ca02c" fill-opacity="0.7" stroke="#2ca02c" stroke-opacity="0.7" stroke-width="1.389"/>
<circle cx="1499.30" cy="137.75" r="3.804" fill="#2ca02c" fill-opacity="0.7" stroke="#2ca02c" stroke-opacity="0.7" stroke-width="1.389"/>
<circle cx="1484.70" cy="148.75" r="3.804" fill="#1f77b4" fill-opacity="0.7" stroke="#1f77b4" stroke-opacity="0.7" stroke-width="1.389"/>
<circle cx="1514.60" cy="150.45" r="3.804" fill="#8c564b" fill-opacity="0.7" stroke="#8c564b" stroke-opacity="0.7" stroke-width="1.389"/>
<circle cx="1498.80" cy="159.25" r="3.804" fill="#2ca02c" fill-opacity="0.7" stroke="#2ca02c" stroke-opacity="0.7" stroke-width="1.389"/>
<circle cx="1504.80" cy="174.15" r="3.804" fill="#2ca02c" fill-opacity="0.7" stroke="#2ca02c" stroke-opacity="0.7" stroke-width="1.389"/>
<circle cx="1631.10" cy="57.25" r="3.804" fill="#8c564b" fill-opacity="0.7" stroke="#8c564b" stroke-opacity="0.7" stroke-width="1.389"/>
<circle cx="1667.10" cy="119.45" r="3.804" fill="#2ca02c" fill-opacity="0.7" stroke="#2ca02c" stroke-opacity="0.7" stroke-width="1.389"/>
<circle cx="1286.30" cy="201.55" r="3.804" fill="#1f77b4" fill-opacity="0.7" stroke="#1f77b4" stroke-opacity="0.7" stroke-width="1.389"/>
<circle cx="1306.60" cy="213.45" r="3.804" fill="#1f77b4" fill-opacity="0.7" stroke="#1f77b4" stroke-opacity="0.7" stroke-width="1.389"/>
<circle cx="1298.50" cy="219.95" r="3.804" fill="#1f77b4" fill-opacity="0.7" stroke="#1f77b4" stroke-opacity="0.7" stroke-width="1.389"/>
<circle cx="1355.60" cy="218.05" r="3.804" fill="#1f77b4" fill-opacity="0.7" stroke="#1f77b4" stroke-opacity="0.7" stroke-width="1.389"/>
<circle cx="1335.70" cy="237.85" r="3.804" fill="#1f77b4" fill-opacity="0.7" stroke="#1f77b4" stroke-opacity="0.7" stroke-width="1.389"/>
<circle cx="1342.10" cy="241.25" r="3.804" fill="#1f77b4" fill-opacity="0.7" stroke="#1f77b4" stroke-opacity="0.7" stroke-width="1.389"/>
<circle cx="1343.10" cy="244.05" r="3.804" fill="#1f77b4" fill-opacity="0.7" stroke="#1f77b4" stroke-opacity="0.7" stroke-width="1.389"/>
<circle cx="1328.60" cy="244.75" r="3.804" fill="#1f77b4" fill-opacity="0.7" stroke="#1f77b4" stroke-opacity="0.7" stroke-width="1.389"/>
<circle cx="1358.00" cy="252.85" r="3.804" fill="#1f77b4" fill-opacity="0.7" stroke="#1f77b4" stroke-opacity="0.7" stroke-width="1.389"/>
<circle cx="1336.80" cy="257.80" r="3.804" fill="#1f77b4" fill-opacity="0.7" stroke="#1f77b4" stroke-opacity="0.7" stroke-width="1.389"/>
<circle cx="1336.80" cy="257.80" r="3.804" fill="#1f77b4" fill-opacity="0.7" stroke="#1f77b4" stroke-opacity="0.7" stroke-width="1.389"/>
<circle cx="1343.70" cy="256.25" r="3.804" fill="#1f77b4" fill-opacity="0.7" stroke="#1f77b4" stroke-opacity="0.7" stroke-width="1.389"/>
<circle cx="1343.60" cy="258.35" r="3.804" fill="#1f77b4" fill-opacity="0.7" stroke="#1f77b4" stroke-opacity="0.7" stroke-width="1.389"/>
<circle cx="1351.60" cy="280.95" r="3.804" fill="#1f77b4" fill-opacity="0.7" stroke="#1f77b4" stroke-opacity="0.7" stroke-width="1.389"/>
<circle cx="1411.10" cy="324.05" r="3.804" fill="#1f77b4" fill-opacity="0.7" stroke="#1f77b4" stroke-opacity="0.7" stroke-width="1.389"/>
<circle cx="1406.90" cy="339.75" r="3.804" fill="#1f77b4" fill-opacity="0.7" stroke="#1f77b4" stroke-opacity="0.7" stroke-width="1.389"/>
<circle cx="1493.20" cy="189.35" r="3.804" fill="#2ca02c" fill-opacity="0.7" stroke="#2ca02c" stroke-opacity="0.7" stroke-width="1.389"/>
<circle cx="1493.20" cy="189.45" r="3.804" fill="#2ca02c" fill-opacity="0.7" stroke="#2ca02c" stroke-opacity="0.7" stroke-width="1.389"/>
<circle cx="1504.30" cy="186.75" r="3.804" fill="#2ca02c" fill-opacity="0.7" stroke="#2ca02c" stroke-opacity="0.7" stroke-width="1.389"/>
<circle cx="1462.90" cy="210.45" r="3.804" fill="#1f77b4" fill-opacity="0.7" stroke="#1f77b4" stroke-opacity="0.7" stroke-width="1.389"/>
<circle cx="1454.30" cy="216.95" r="3.804" fill="#1f77b4" fill-opacity="0.7" stroke="#1f77b4" stroke-opacity="0.7" stroke-width="1.389"/>
<circle cx="1505.20" cy="213.55" r="3.804" fill="#2ca02c" fill-opacity="0.7" stroke="#2ca02c" stroke-opacity="0.7" stroke-width="1.389"/>
<circle cx="1506.00" cy="211.15" r="3.804" fill="#2ca02c" fill-opacity="0.7" stroke="#2ca02c" stroke-opacity="0.7" stroke-width="1.389"/>
<circle cx="1555.60" cy="296.25" r="3.804" fill="#1f77b4" fill-opacity="0.7" stroke="#1f77b4" stroke-opacity="0.7" stroke-width="1.389"/>
<circle cx="1609.00" cy="305.45" r="3.804" fill="#2ca02c" fill-opacity="0.7" stroke="#2ca02c" stroke-opacity="0.7" stroke-width="1.389"/>
<circle cx="1593.50" cy="315.25" r="3.804" fill="#2ca02c" fill-opacity="0.7" stroke="#2ca02c" stroke-opacity="0.7" stroke-width="1.389"/>
<circle cx="1593.50" cy="315.35" r="3.804" fill="#2ca02c" fill-opacity="0.7" stroke="#2ca02c" stroke-opacity="0.7" stroke-width="1.389"/>
<circle cx="1593.50" cy="315.30" r="3.804" fill="#2ca02c" fill-opacity="0.7" stroke="#2ca02c" stroke-opacity="0.7" stroke-width="1.389"/>
<circle cx="1603.10" cy="317.45" r="3.804" fill="#2ca02c" fill-opacity="0.7" stroke="#2ca02c" stroke-opacity="0.7" stroke-width="1.389"/>
<circle cx="1599.60" cy="339.45" r="3.804" fill="#2ca02c" fill-opacity="0.7" stroke="#2ca02c" stroke-opacity="0.7" stroke-width="1.389"/>
<circle cx="1611.90" cy="343.25" r="3.804" fill="#2ca02c" fill-opacity="0.7" stroke="#2ca02c" stroke-opacity="0.7" stroke-width="1.389"/>
<circle cx="1593.20" cy="349.05" r="3.804" fill="#2ca02c" fill-opacity="0.7" stroke="#2ca02c" stroke-opacity="0.7" stroke-width="1.389"/>
<circle cx="1754.90" cy="205.55" r="3.804" fill="#8c564b" fill-opacity="0.7" stroke="#8c564b" stroke-opacity="0.7" stroke-width="1.389"/>
<circle cx="1683.60" cy="215.75" r="3.804" fill="#2ca02c" fill-opacity="0.7" stroke="#2ca02c" stroke-opacity="0.7" stroke-width="1.389"/>
<circle cx="1709.10" cy="216.05" r="3.804" fill="#8c564b" fill-opacity="0.7" stroke="#8c564b" stroke-opacity="0.7" stroke-width="1.389"/>
<circle cx="1658.10" cy="254.05" r="3.804" fill="#2ca02c" fill-opacity="0.7" stroke="#2ca02c" stroke-opacity="0.7" stroke-width="1.389"/>
<circle cx="1737.10" cy="256.75" r="3.804" fill="#2ca02c" fill-opacity="0.7" stroke="#2ca02c" stroke-opacity="0.7" stroke-width="1.389"/>
<circle cx="1698.40" cy="272.65" r="3.804" fill="#2ca02c" fill-opacity="0.7" stroke="#2ca02c" stroke-opacity="0.7" stroke-width="1.389"/>
<circle cx="1698.40" cy="272.85" r="3.804" fill="#2ca02c" fill-opacity="0.7" stroke="#2ca02c" stroke-opacity="0.7" stroke-width="1.389"/>
<circle cx="1742.40" cy="281.25" r="3.804" fill="#2ca02c" fill-opacity="0.7" stroke="#2ca02c" stroke-opacity="0.7" stroke-width="1.389"/>
<circle cx="1755.60" cy="283.05" r="3.804" fill="#2ca02c" fill-opacity="0.7" stroke="#2ca02c" stroke-opacity="0.7" stroke-width="1.389"/>
<circle cx="1760.80" cy="283.45" r="3.804" fill="#2ca02c" fill-opacity="0.7" stroke="#2ca02c" stroke-opacity="0.7" stroke-width="1.389"/>
<circle cx="1700.80" cy="294.55" r="3.804" fill="#2ca02c" fill-opacity="0.7" stroke="#2ca02c" stroke-opacity="0.7" stroke-width="1.389"/>
<circle cx="1645.10" cy="307.95" r="3.804" fill="#2ca02c" fill-opacity="0.7" stroke="#2ca02c" stroke-opacity="0.7" stroke-width="1.389"/>
<circle cx="1465.60" cy="346.25" r="3.804" fill="#2ca02c" fill-opacity="0.7" stroke="#2ca02c" stroke-opacity="0.7" stroke-width="1.389"/>
<circle cx="1455.70" cy="364.55" r="3.804" fill="#2ca02c" fill-opacity="0.7" stroke="#2ca02c" stroke-opacity="0.7" stroke-width="1.389"/>
<circle cx="1460.90" cy="374.15" r="3.804" fill="#2ca02c" fill-opacity="0.7" stroke="#2ca02c" stroke-opacity="0.7" stroke-width="1.389"/>
<circle cx="1466.80" cy="372.25" r="3.804" fill="#2ca02c" fill-opacity="0.7" stroke="#2ca02c" stroke-opacity="0.7" stroke-width="1.389"/>
<circle cx="1479.90" cy="374.05" r="3.804" fill="#2ca02c" fill-opacity="0.7" stroke="#2ca02c" stroke-opacity="0.7" stroke-width="1.389"/>
<circle cx="1488.30" cy="369.45" r="3.804" fill="#2ca02c" fill-opacity="0.7" stroke="#2ca02c" stroke-opacity="0.7" stroke-width="1.389"/>
<circle cx="1437.90" cy="379.75" r="3.804" fill="#2ca02c" fill-opacity="0.7" stroke="#2ca02c" stroke-opacity="0.7" stroke-width="1.389"/>
<circle cx="1457.90" cy="379.45" r="3.804" fill="#2ca02c" fill-opacity="0.7" stroke="#2ca02c" stroke-opacity="0.7" stroke-width="1.389"/>
<circle cx="1458.40" cy="381.85" r="3.804" fill="#2ca02c" fill-opacity="0.7" stroke="#2ca02c" stroke-opacity="0.7" stroke-width="1.389"/>
<circle cx="1452.00" cy="394.45" r="3.804" fill="#7f7f7f" fill-opacity="0.7" stroke="#7f7f7f" stroke-opacity="0.7" stroke-width="1.389"/>
<circle cx="1449.40" cy="398.75" r="3.804" fill="#7f7f7f" fill-opacity="0.7" stroke="#7f7f7f" stroke-opacity="0.7" stroke-width="1.389"/>
<circle cx="1463.30" cy="395.95" r="3.804" fill="#2ca02c" fill-opacity="0.7" stroke="#2ca02c" stroke-opacity="0.7" stroke-width="1.389"/>
<circle cx="1451.60" cy="406.85" r="3.804" fill="#2ca02c" fill-opacity="0.7" stroke="#2ca02c" stroke-opacity="0.7" stroke-width="1.389"/>
<circle cx="1452.00" cy="407.70" r="3.804" fill="#2ca02c" fill-opacity="0.7" stroke="#2ca02c" stroke-opacity="0.7" stroke-width="1.389"/>
<circle cx="1452.00" cy="407.55" r="3.804" fill="#7f7f7f" fill-opacity="0.7" stroke="#7f7f7f" stroke-opacity="0.7" stroke-width="1.389"/>
<circle cx="1467.90" cy="413.15" r="3.804" fill="#17becf" fill-opacity="0.7" stroke="#17becf" stroke-opacity="0.7" stroke-width="1.389"/>
<circle cx="1467.90" cy="413.35" r="3.804" fill="#17becf" fill-opacity="0.7" stroke="#17becf" stroke-opacity="0.7" stroke-width="1.389"/>
<circle cx="1458.90" cy="416.75" r="3.804" fill="#17becf" fill-opacity="0.7" stroke="#17becf" stroke-opacity="0.7" stroke-width="1.389"/>
<circle cx="1480.80" cy="421.75" r="3.804" fill="#17becf" fill-opacity="0.7" stroke="#17becf" stroke-opacity="0.7" stroke-width="1.389"/>
<circle cx="1478.30" cy="451.75" r="3.804" fill="#17becf" fill-opacity="0.7" stroke="#17becf" stroke-opacity="0.7" stroke-width="1.389"/>
<circle cx="1462.30" cy="445.25" r="3.804" fill="#2ca02c" fill-opacity="0.7" stroke="#2ca02c" stroke-opacity="0.7" stroke-width="1.389"/>
<circle cx="1556.90" cy="345.85" r="3.804" fill="#2ca02c" fill-opacity="0.7" stroke="#2ca02c" stroke-opacity="0.7" stroke-width="1.389"/>
<circle cx="1567.40" cy="351.55" r="3.804" fill="#2ca02c" fill-opacity="0.7" stroke="#2ca02c" stroke-opacity="0.7" stroke-width="1.389"/>
<circle cx="1578.10" cy="369.55" r="3.804" fill="#2ca02c" fill-opacity="0.7" stroke="#2ca02c" stroke-opacity="0.7" stroke-width="1.389"/>
<line x1="1278.5" y1="37.33" x2="1278.5" y2="471.28" stroke="#b0b0b0" stroke-width="1.111"/>
<line x1="1389.5" y1="37.33" x2="1389.5" y2="471.28" stroke="#b0b0b0" stroke-width="1.111"/>
<line x1="1499.5" y1="37.33" x2="1499.5" y2="471.28" stroke="#b0b0b0" stroke-width="1.111"/>
<line x1="1610.5" y1="37.33" x2="1610.5" y2="471.28" stroke="#b0b0b0" stroke-width="1.111"/>
<line x1="1720.5" y1="37.33" x2="1720.5" y2="471.28" stroke="#b0b0b0" stroke-width="1.111"/>
<line x1="1248.35" y1="452.5" x2="1785.00" y2="452.5" stroke="#b0b0b0" stroke-width="1.111"/>
<line x1="1248.35" y1="363.5" x2="1785.00" y2="363.5" stroke="#b0b0b0" stroke-width="1.111"/>
<line x1="1248.35" y1="275.5" x2="1785.00" y2="275.5" stroke="#b0b0b0" stroke-width="1.111"/>
<line x1="1248.35" y1="187.5" x2="1785.00" y2="187.5" stroke="#b0b0b0" stroke-width="1.111"/>
<line x1="1248.35" y1="99.5" x2="1785.00" y2="99.5" stroke="#b0b0b0" stroke-width="1.111"/>
<rect x="1248.5" y="37.5" width="537.0" height="434.0" fill="none" stroke="#000" stroke-width="1.111" stroke-linecap="square"/>
<line x1="1278.5" y1="471.5" x2="1278.5" y2="476.5" stroke="#000" stroke-width="1.111"/>
<text x="1262.07 1272.62 1281.57 1285.82" y="0" transform="translate(0 492.0) scale(1 0.987)" style="font-size:13.889px;font-family:'DejaVu Sans',sans-serif">−1.0</text>
<line x1="1243.5" y1="452.5" x2="1248.5" y2="452.5" stroke="#000" stroke-width="1.111"/>
<text x="1205.07 1215.62 1224.57 1228.82" y="0" transform="translate(0 458.0) scale(1 0.987)" style="font-size:13.889px;font-family:'DejaVu Sans',sans-serif">−1.0</text>
<line x1="1389.5" y1="471.5" x2="1389.5" y2="476.5" stroke="#000" stroke-width="1.111"/>
<text x="1372.99 1383.54 1392.39 1396.74" y="0" transform="translate(0 492.0) scale(1 0.987)" style="font-size:13.889px;font-family:'DejaVu Sans',sans-serif">−0.5</text>
<line x1="1243.5" y1="363.5" x2="1248.5" y2="363.5" stroke="#000" stroke-width="1.111"/>
<text x="1205.99 1216.54 1225.39 1229.74" y="0" transform="translate(0 369.0) scale(1 0.987)" style="font-size:13.889px;font-family:'DejaVu Sans',sans-serif">−0.5</text>
<line x1="1499.5" y1="471.5" x2="1499.5" y2="476.5" stroke="#000" stroke-width="1.111"/>
<text x="1488.95 1496.75 1501.07" y="0" transform="translate(0 492.0) scale(1 0.987)" style="font-size:13.889px;font-family:'DejaVu Sans',sans-serif">0.0</text>
<line x1="1243.5" y1="275.5" x2="1248.5" y2="275.5" stroke="#000" stroke-width="1.111"/>
<text x="1217.95 1225.75 1230.07" y="0" transform="translate(0 281.0) scale(1 0.987)" style="font-size:13.889px;font-family:'DejaVu Sans',sans-serif">0.0</text>
<line x1="1610.5" y1="471.5" x2="1610.5" y2="476.5" stroke="#000" stroke-width="1.111"/>
<text x="1599.95 1607.75 1612.10" y="0" transform="translate(0 492.0) scale(1 0.987)" style="font-size:13.889px;font-family:'DejaVu Sans',sans-serif">0.5</text>
<line x1="1243.5" y1="187.5" x2="1248.5" y2="187.5" stroke="#000" stroke-width="1.111"/>
<text x="1217.95 1225.75 1230.10" y="0" transform="translate(0 193.0) scale(1 0.987)" style="font-size:13.889px;font-family:'DejaVu Sans',sans-serif">0.5</text>
<line x1="1720.5" y1="471.5" x2="1720.5" y2="476.5" stroke="#000" stroke-width="1.111"/>
<text x="1710.07 1717.84 1722.18" y="0" transform="translate(0 492.0) scale(1 0.987)" style="font-size:13.889px;font-family:'DejaVu Sans',sans-serif">1.0</text>
<line x1="1243.5" y1="99.5" x2="1248.5" y2="99.5" stroke="#000" stroke-width="1.111"/>
<text x="1217.07 1224.84 1229.18" y="0" transform="translate(0 105.0) scale(1 0.987)" style="font-size:13.889px;font-family:'DejaVu Sans',sans-serif">1.0</text>
<text x="1472.97 1483.82 1497.77 1502.77 1513.46 1519.87 1529.82 1541.49 1552.88" y="0" transform="translate(0 29.0) scale(1 1.07)" style="font-size:16.667px;font-family:'DejaVu Sans',sans-serif">K=5 (PCA)</text></g>
<g><circle cx="212.60" cy="643.05" r="3.804" fill="#1f77b4" fill-opacity="0.7" stroke="#1f77b4" stroke-opacity="0.7" stroke-width="1.389"/>
<circle cx="108.30" cy="656.25" r="3.804" fill="#1f77b4" fill-opacity="0.7" stroke="#1f77b4" stroke-opacity="0.7" stroke-width="1.389"/>
<circle cx="122.80" cy="667.25" r="3.804" fill="#1f77b4" fill-opacity="0.7" stroke="#1f77b4" stroke-opacity="0.7" stroke-width="1.389"/>
<circle cx="82.80" cy="675.05" r="3.804" fill="#1f77b4" fill-opacity="0.7" stroke="#1f77b4" stroke-opacity="0.7" stroke-width="1.389"/>
<circle cx="258.90" cy="580.75" r="3.804" fill="#1f77b4" fill-opacity="0.7" stroke="#1f77b4" stroke-opacity="0.7" stroke-width="1.389"/>
<circle cx="390.30" cy="558.55" r="3.804" fill="#1f77b4" fill-opacity="0.7" stroke="#1f77b4" stroke-opacity="0.7" stroke-width="1.389"/>
<circle cx="395.30" cy="584.55" r="3.804" fill="#1f77b4" fill-opacity="0.7" stroke="#1f77b4" stroke-opacity="0.7" stroke-width="1.389"/>
<circle cx="326.50" cy="612.05" r="3.804" fill="#9467bd" fill-opacity="0.7" stroke="#9467bd" stroke-opacity="0.7" stroke-width="1.389"/>
<circle cx="309.30" cy="632.75" r="3.804" fill="#9467bd" fill-opacity="0.7" stroke="#9467bd" stroke-opacity="0.7" stroke-width="1.389"/>
<circle cx="294.70" cy="643.75" r="3.804" fill="#1f77b4" fill-opacity="0.7" stroke="#1f77b4" stroke-opacity="0.7" stroke-width="1.389"/>
<circle cx="324.60" cy="645.45" r="3.804" fill="#9467bd" fill-opacity="0.7" stroke="#9467bd" stroke-opacity="0.7" stroke-width="1.389"/>
<circle cx="308.80" cy="654.25" r="3.804" fill="#9467bd" fill-opacity="0.7" stroke="#9467bd" stroke-opacity="0.7" stroke-width="1.389"/>
<circle cx="314.80" cy="669.15" r="3.804" fill="#9467bd" fill-opacity="0.7" stroke="#9467bd" stroke-opacity="0.7" stroke-width="1.389"/>
<circle cx="441.10" cy="552.25" r="3.804" fill="#bcbd22" fill-opacity="0.7" stroke="#bcbd22" stroke-opacity="0.7" stroke-width="1.389"/>
<circle cx="477.10" cy="614.45" r="3.804" fill="#9467bd" fill-opacity="0.7" stroke="#9467bd" stroke-opacity="0.7" stroke-width="1.389"/>
<circle cx="96.30" cy="696.55" r="3.804" fill="#1f77b4" fill-opacity="0.7" stroke="#1f77b4" stroke-opacity="0.7" stroke-width="1.389"/>
<circle cx="116.60" cy="708.45" r="3.804" fill="#1f77b4" fill-opacity="0.7" stroke="#1f77b4" stroke-opacity="0.7" stroke-width="1.389"/>
<circle cx="108.50" cy="714.95" r="3.804" fill="#1f77b4" fill-opacity="0.7" stroke="#1f77b4" stroke-opacity="0.7" stroke-width="1.389"/>
<circle cx="165.60" cy="713.05" r="3.804" fill="#1f77b4" fill-opacity="0.7" stroke="#1f77b4" stroke-opacity="0.7" stroke-width="1.389"/>
<circle cx="145.70" cy="732.85" r="3.804" fill="#1f77b4" fill-opacity="0.7" stroke="#1f77b4" stroke-opacity="0.7" stroke-width="1.389"/>
<circle cx="152.10" cy="736.25" r="3.804" fill="#1f77b4" fill-opacity="0.7" stroke="#1f77b4" stroke-opacity="0.7" stroke-width="1.389"/>
<circle cx="153.10" cy="739.05" r="3.804" fill="#1f77b4" fill-opacity="0.7" stroke="#1f77b4" stroke-opacity="0.7" stroke-width="1.389"/>
<circle cx="138.60" cy="739.75" r="3.804" fill="#1f77b4" fill-opacity="0.7" stroke="#1f77b4" stroke-opacity="0.7" stroke-width="1.389"/>
<circle cx="168.00" cy="747.85" r="3.804" fill="#1f77b4" fill-opacity="0.7" stroke="#1f77b4" stroke-opacity="0.7" stroke-width="1.389"/>
<circle cx="146.80" cy="752.80" r="3.804" fill="#1f77b4" fill-opacity="0.7" stroke="#1f77b4" stroke-opacity="0.7" stroke-width="1.389"/>
<circle cx="146.80" cy="752.80" r="3.804" fill="#1f77b4" fill-opacity="0.7" stroke="#1f77b4" stroke-opacity="0.7" stroke-width="1.389"/>
<circle cx="153.70" cy="751.25" r="3.804" fill="#1f77b4" fill-opacity="0.7" stroke="#1f77b4" stroke-opacity="0.7" stroke-width="1.389"/>
<circle cx="153.60" cy="753.35" r="3.804" fill="#1f77b4" fill-opacity="0.7" stroke="#1f77b4" stroke-opacity="0.7" stroke-width="1.389"/>
<circle cx="161.60" cy="775.95" r="3.804" fill="#1f77b4" fill-opacity="0.7" stroke="#1f77b4" stroke-opacity="0.7" stroke-width="1.389"/>
<circle cx="221.10" cy="819.05" r="3.804" fill="#1f77b4" fill-opacity="0.7" stroke="#1f77b4" stroke-opacity="0.7" stroke-width="1.389"/>
<circle cx="216.90" cy="834.75" r="3.804" fill="#1f77b4" fill-opacity="0.7" stroke="#1f77b4" stroke-opacity="0.7" stroke-width="1.389"/>
<circle cx="303.20" cy="684.35" r="3.804" fill="#9467bd" fill-opacity="0.7" stroke="#9467bd" stroke-opacity="0.7" stroke-width="1.389"/>
<circle cx="303.20" cy="684.45" r="3.804" fill="#9467bd" fill-opacity="0.7" stroke="#9467bd" stroke-opacity="0.7" stroke-width="1.389"/>
<circle cx="314.30" cy="681.75" r="3.804" fill="#9467bd" fill-opacity="0.7" stroke="#9467bd" stroke-opacity="0.7" stroke-width="1.389"/>
<circle cx="272.90" cy="705.45" r="3.804" fill="#1f77b4" fill-opacity="0.7" stroke="#1f77b4" stroke-opacity="0.7" stroke-width="1.389"/>
<circle cx="264.30" cy="711.95" r="3.804" fill="#1f77b4" fill-opacity="0.7" stroke="#1f77b4" stroke-opacity="0.7" stroke-width="1.389"/>
<circle cx="315.20" cy="708.55" r="3.804" fill="#9467bd" fill-opacity="0.7" stroke="#9467bd" stroke-opacity="0.7" stroke-width="1.389"/>
<circle cx="316.00" cy="706.15" r="3.804" fill="#9467bd" fill-opacity="0.7" stroke="#9467bd" stroke-opacity="0.7" stroke-width="1.389"/>
<circle cx="365.60" cy="791.25" r="3.804" fill="#1f77b4" fill-opacity="0.7" stroke="#1f77b4" stroke-opacity="0.7" stroke-width="1.389"/>
<circle cx="419.00" cy="800.45" r="3.804" fill="#e377c2" fill-opacity="0.7" stroke="#e377c2" stroke-opacity="0.7" stroke-width="1.389"/>
<circle cx="403.50" cy="810.25" r="3.804" fill="#e377c2" fill-opacity="0.7" stroke="#e377c2" stroke-opacity="0.7" stroke-width="1.389"/>
<circle cx="403.50" cy="810.35" r="3.804" fill="#e377c2" fill-opacity="0.7" stroke="#e377c2" stroke-opacity="0.7" stroke-width="1.389"/>
<circle cx="403.50" cy="810.30" r="3.804" fill="#e377c2" fill-opacity="0.7" stroke="#e377c2" stroke-opacity="0.7" stroke-width="1.389"/>
<circle cx="413.10" cy="812.45" r="3.804" fill="#e377c2" fill-opacity="0.7" stroke="#e377c2" stroke-opacity="0.7" stroke-width="1.389"/>
<circle cx="409.60" cy="834.45" r="3.804" fill="#e377c2" fill-opacity="0.7" stroke="#e377c2" stroke-opacity="0.7" stroke-width="1.389"/>
<circle cx="421.90" cy="838.25" r="3.804" fill="#e377c2" fill-opacity="0.7" stroke="#e377c2" stroke-opacity="0.7" stroke-width="1.389"/>
<circle cx="403.20" cy="844.05" r="3.804" fill="#e377c2" fill-opacity="0.7" stroke="#e377c2" stroke-opacity="0.7" stroke-width="1.389"/>
<circle cx="564.90" cy="700.55" r="3.804" fill="#bcbd22" fill-opacity="0.7" stroke="#bcbd22" stroke-opacity="0.7" stroke-width="1.389"/>
<circle cx="493.60" cy="710.75" r="3.804" fill="#e377c2" fill-opacity="0.7" stroke="#e377c2" stroke-opacity="0.7" stroke-width="1.389"/>
<circle cx="519.10" cy="711.05" r="3.804" fill="#bcbd22" fill-opacity="0.7" stroke="#bcbd22" stroke-opacity="0.7" stroke-width="1.389"/>
<circle cx="468.10" cy="749.05" r="3.804" fill="#2ca02c" fill-opacity="0.7" stroke="#2ca02c" stroke-opacity="0.7" stroke-width="1.389"/>
<circle cx="547.10" cy="751.75" r="3.804" fill="#e377c2" fill-opacity="0.7" stroke="#e377c2" stroke-opacity="0.7" stroke-width="1.389"/>
<circle cx="508.40" cy="767.65" r="3.804" fill="#e377c2" fill-opacity="0.7" stroke="#e377c2" stroke-opacity="0.7" stroke-width="1.389"/>
<circle cx="508.40" cy="767.85" r="3.804" fill="#e377c2" fill-opacity="0.7" stroke="#e377c2" stroke-opacity="0.7" stroke-width="1.389"/>
<circle cx="552.40" cy="776.25" r="3.804" fill="#e377c2" fill-opacity="0.7" stroke="#e377c2" stroke-opacity="0.7" stroke-width="1.389"/>
<circle cx="565.60" cy="778.05" r="3.804" fill="#e377c2" fill-opacity="0.7" stroke="#e377c2" stroke-opacity="0.7" stroke-width="1.389"/>
<circle cx="570.80" cy="778.45" r="3.804" fill="#17becf" fill-opacity="0.7" stroke="#17becf" stroke-opacity="0.7" stroke-width="1.389"/>
<circle cx="510.80" cy="789.55" r="3.804" fill="#e377c2" fill-opacity="0.7" stroke="#e377c2" stroke-opacity="0.7" stroke-width="1.389"/>
<circle cx="455.10" cy="802.95" r="3.804" fill="#e377c2" fill-opacity="0.7" stroke="#e377c2" stroke-opacity="0.7" stroke-width="1.389"/>
<circle cx="275.60" cy="841.25" r="3.804" fill="#e377c2" fill-opacity="0.7" stroke="#e377c2" stroke-opacity="0.7" stroke-width="1.389"/>
<circle cx="265.70" cy="859.55" r="3.804" fill="#e377c2" fill-opacity="0.7" stroke="#e377c2" stroke-opacity="0.7" stroke-width="1.389"/>
<circle cx="270.90" cy="869.15" r="3.804" fill="#e377c2" fill-opacity="0.7" stroke="#e377c2" stroke-opacity="0.7" stroke-width="1.389"/>
<circle cx="276.80" cy="867.25" r="3.804" fill="#e377c2" fill-opacity="0.7" stroke="#e377c2" stroke-opacity="0.7" stroke-width="1.389"/>
<circle cx="289.90" cy="869.05" r="3.804" fill="#e377c2" fill-opacity="0.7" stroke="#e377c2" stroke-opacity="0.7" stroke-width="1.389"/>
<circle cx="298.30" cy="864.45" r="3.804" fill="#e377c2" fill-opacity="0.7" stroke="#e377c2" stroke-opacity="0.7" stroke-width="1.389"/>
<circle cx="247.90" cy="874.75" r="3.804" fill="#e377c2" fill-opacity="0.7" stroke="#e377c2" stroke-opacity="0.7" stroke-width="1.389"/>
<circle cx="267.90" cy="874.45" r="3.804" fill="#e377c2" fill-opacity="0.7" stroke="#e377c2" stroke-opacity="0.7" stroke-width="1.389"/>
<circle cx="268.40" cy="876.85" r="3.804" fill="#e377c2" fill-opacity="0.7" stroke="#e377c2" stroke-opacity="0.7" stroke-width="1.389"/>
<circle cx="262.00" cy="889.45" r="3.804" fill="#e377c2" fill-opacity="0.7" stroke="#e377c2" stroke-opacity="0.7" stroke-width="1.389"/>
<circle cx="259.40" cy="893.75" r="3.804" fill="#e377c2" fill-opacity="0.7" stroke="#e377c2" stroke-opacity="0.7" stroke-width="1.389"/>
<circle cx="273.30" cy="890.95" r="3.804" fill="#e377c2" fill-opacity="0.7" stroke="#e377c2" stroke-opacity="0.7" stroke-width="1.389"/>
<circle cx="261.60" cy="901.85" r="3.804" fill="#e377c2" fill-opacity="0.7" stroke="#e377c2" stroke-opacity="0.7" stroke-width="1.389"/>
<circle cx="262.00" cy="902.70" r="3.804" fill="#e377c2" fill-opacity="0.7" stroke="#e377c2" stroke-opacity="0.7" stroke-width="1.389"/>
<circle cx="262.00" cy="902.55" r="3.804" fill="#e377c2" fill-opacity="0.7" stroke="#e377c2" stroke-opacity="0.7" stroke-width="1.389"/>
<circle cx="277.90" cy="908.15" r="3.804" fill="#e377c2" fill-opacity="0.7" stroke="#e377c2" stroke-opacity="0.7" stroke-width="1.389"/>
<circle cx="277.90" cy="908.35" r="3.804" fill="#e377c2" fill-opacity="0.7" stroke="#e377c2" stroke-opacity="0.7" stroke-width="1.389"/>
<circle cx="268.90" cy="911.75" r="3.804" fill="#e377c2" fill-opacity="0.7" stroke="#e377c2" stroke-opacity="0.7" stroke-width="1.389"/>
<circle cx="290.80" cy="916.75" r="3.804" fill="#17becf" fill-opacity="0.7" stroke="#17becf" stroke-opacity="0.7" stroke-width="1.389"/>
<circle cx="288.30" cy="946.75" r="3.804" fill="#e377c2" fill-opacity="0.7" stroke="#e377c2" stroke-opacity="0.7" stroke-width="1.389"/>
<circle cx="272.30" cy="940.25" r="3.804" fill="#e377c2" fill-opacity="0.7" stroke="#e377c2" stroke-opacity="0.7" stroke-width="1.389"/>
<circle cx="366.90" cy="840.85" r="3.804" fill="#17becf" fill-opacity="0.7" stroke="#17becf" stroke-opacity="0.7" stroke-width="1.389"/>
<circle cx="377.40" cy="846.55" r="3.804" fill="#17becf" fill-opacity="0.7" stroke="#17becf" stroke-opacity="0.7" stroke-width="1.389"/>
<circle cx="388.10" cy="864.55" r="3.804" fill="#17becf" fill-opacity="0.7" stroke="#17becf" stroke-opacity="0.7" stroke-width="1.389"/>
<line x1="88.5" y1="532.33" x2="88.5" y2="966.28" stroke="#b0b0b0" stroke-width="1.111"/>
<line x1="199.5" y1="532.33" x2="199.5" y2="966.28" stroke="#b0b0b0" stroke-width="1.111"/>
<line x1="309.5" y1="532.33" x2="309.5" y2="966.28" stroke="#b0b0b0" stroke-width="1.111"/>
<line x1="420.5" y1="532.33" x2="420.5" y2="966.28" stroke="#b0b0b0" stroke-width="1.111"/>
<line x1="530.5" y1="532.33" x2="530.5" y2="966.28" stroke="#b0b0b0" stroke-width="1.111"/>
<line x1="58.35" y1="947.5" x2="595.00" y2="947.5" stroke="#b0b0b0" stroke-width="1.111"/>
<line x1="58.35" y1="858.5" x2="595.00" y2="858.5" stroke="#b0b0b0" stroke-width="1.111"/>
<line x1="58.35" y1="770.5" x2="595.00" y2="770.5" stroke="#b0b0b0" stroke-width="1.111"/>
<line x1="58.35" y1="682.5" x2="595.00" y2="682.5" stroke="#b0b0b0" stroke-width="1.111"/>
<line x1="58.35" y1="594.5" x2="595.00" y2="594.5" stroke="#b0b0b0" stroke-width="1.111"/>
<rect x="58.5" y="532.5" width="537.0" height="434.0" fill="none" stroke="#000" stroke-width="1.111" stroke-linecap="square"/>
<line x1="88.5" y1="966.5" x2="88.5" y2="971.5" stroke="#000" stroke-width="1.111"/>
<text x="72.07 82.62 91.57 95.82" y="0" transform="translate(0 987.0) scale(1 0.987)" style="font-size:13.889px;font-family:'DejaVu Sans',sans-serif">−1.0</text>
<line x1="53.5" y1="947.5" x2="58.5" y2="947.5" stroke="#000" stroke-width="1.111"/>
<text x="15.07 25.62 34.57 38.82" y="0" transform="translate(0 953.0) scale(1 0.987)" style="font-size:13.889px;font-family:'DejaVu Sans',sans-serif">−1.0</text>
<line x1="199.5" y1="966.5" x2="199.5" y2="971.5" stroke="#000" stroke-width="1.111"/>
<text x="182.99 193.54 202.39 206.74" y="0" transform="translate(0 987.0) scale(1 0.987)" style="font-size:13.889px;font-family:'DejaVu Sans',sans-serif">−0.5</text>
<line x1="53.5" y1="858.5" x2="58.5" y2="858.5" stroke="#000" stroke-width="1.111"/>
<text x="15.99 26.54 35.39 39.74" y="0" transform="translate(0 864.0) scale(1 0.987)" style="font-size:13.889px;font-family:'DejaVu Sans',sans-serif">−0.5</text>
<line x1="309.5" y1="966.5" x2="309.5" y2="971.5" stroke="#000" stroke-width="1.111"/>
<text x="298.95 306.75 311.07" y="0" transform="translate(0 987.0) scale(1 0.987)" style="font-size:13.889px;font-family:'DejaVu Sans',sans-serif">0.0</text>
<line x1="53.5" y1="770.5" x2="58.5" y2="770.5" stroke="#000" stroke-width="1.111"/>
<text x="27.95 35.75 40.07" y="0" transform="translate(0 776.0) scale(1 0.987)" style="font-size:13.889px;font-family:'DejaVu Sans',sans-serif">0.0</text>
<line x1="420.5" y1="966.5" x2="420.5" y2="971.5" stroke="#000" stroke-width="1.111"/>
<text x="409.95 417.75 422.10" y="0" transform="translate(0 987.0) scale(1 0.987)" style="font-size:13.889px;font-family:'DejaVu Sans',sans-serif">0.5</text>
<line x1="53.5" y1="682.5" x2="58.5" y2="682.5" stroke="#000" stroke-width="1.111"/>
<text x="27.95 35.75 40.10" y="0" transform="translate(0 688.0) scale(1 0.987)" style="font-size:13.889px;font-family:'DejaVu Sans',sans-serif">0.5</text>
<line x1="530.5" y1="966.5" x2="530.5" y2="971.5" stroke="#000" stroke-width="1.111"/>
<text x="520.07 527.84 532.18" y="0" transform="translate(0 987.0) scale(1 0.987)" style="font-size:13.889px;font-family:'DejaVu Sans',sans-serif">1.0</text>
<line x1="53.5" y1="594.5" x2="58.5" y2="594.5" stroke="#000" stroke-width="1.111"/>
<text x="27.07 34.84 39.18" y="0" transform="translate(0 600.0) scale(1 0.987)" style="font-size:13.889px;font-family:'DejaVu Sans',sans-serif">1.0</text>
<text x="282.97 293.82 307.66 312.66 323.46 329.87 339.82 351.49 362.88" y="0" transform="translate(0 524.0) scale(1 1.07)" style="font-size:16.667px;font-family:'DejaVu Sans',sans-serif">K=6 (PCA)</text></g>
<g><circle cx="807.60" cy="643.05" r="3.804" fill="#8c564b" fill-opacity="0.7" stroke="#8c564b" stroke-opacity="0.7" stroke-width="1.389"/>
<circle cx="703.30" cy="656.25" r="3.804" fill="#8c564b" fill-opacity="0.7" stroke="#8c564b" stroke-opacity="0.7" stroke-width="1.389"/>
<circle cx="717.80" cy="667.25" r="3.804" fill="#8c564b" fill-opacity="0.7" stroke="#8c564b" stroke-opacity="0.7" stroke-width="1.389"/>
<circle cx="677.80" cy="675.05" r="3.804" fill="#8c564b" fill-opacity="0.7" stroke="#8c564b" stroke-opacity="0.7" stroke-width="1.389"/>
<circle cx="853.90" cy="580.75" r="3.804" fill="#8c564b" fill-opacity="0.7" stroke="#8c564b" stroke-opacity="0.7" stroke-width="1.389"/>
<circle cx="985.30" cy="558.55" r="3.804" fill="#8c564b" fill-opacity="0.7" stroke="#8c564b" stroke-opacity="0.7" stroke-width="1.389"/>
<circle cx="990.30" cy="584.55" r="3.804" fill="#8c564b" fill-opacity="0.7" stroke="#8c564b" stroke-opacity="0.7" stroke-width="1.389"/>
<circle cx="921.50" cy="612.05" r="3.804" fill="#1f77b4" fill-opacity="0.7" stroke="#1f77b4" stroke-opacity="0.7" stroke-width="1.389"/>
<circle cx="904.30" cy="632.75" r="3.804" fill="#bcbd22" fill-opacity="0.7" stroke="#bcbd22" stroke-opacity="0.7" stroke-width="1.389"/>
<circle cx="889.70" cy="643.75" r="3.804" fill="#bcbd22" fill-opacity="0.7" stroke="#bcbd22" stroke-opacity="0.7" stroke-width="1.389"/>
<circle cx="919.60" cy="645.45" r="3.804" fill="#bcbd22" fill-opacity="0.7" stroke="#bcbd22" stroke-opacity="0.7" stroke-width="1.389"/>
<circle cx="903.80" cy="654.25" r="3.804" fill="#1f77b4" fill-opacity="0.7" stroke="#1f77b4" stroke-opacity="0.7" stroke-width="1.389"/>
<circle cx="909.80" cy="669.15" r="3.804" fill="#1f77b4" fill-opacity="0.7" stroke="#1f77b4" stroke-opacity="0.7" stroke-width="1.389"/>
<circle cx="1036.10" cy="552.25" r="3.804" fill="#1f77b4" fill-opacity="0.7" stroke="#1f77b4" stroke-opacity="0.7" stroke-width="1.389"/>
<circle cx="1072.10" cy="614.45" r="3.804" fill="#d62728" fill-opacity="0.7" stroke="#d62728" stroke-opacity="0.7" stroke-width="1.389"/>
<circle cx="691.30" cy="696.55" r="3.804" fill="#8c564b" fill-opacity="0.7" stroke="#8c564b" stroke-opacity="0.7" stroke-width="1.389"/>
<circle cx="711.60" cy="708.45" r="3.804" fill="#8c564b" fill-opacity="0.7" stroke="#8c564b" stroke-opacity="0.7" stroke-width="1.389"/>
<circle cx="703.50" cy="714.95" r="3.804" fill="#8c564b" fill-opacity="0.7" stroke="#8c564b" stroke-opacity="0.7" stroke-width="1.389"/>
<circle cx="760.60" cy="713.05" r="3.804" fill="#bcbd22" fill-opacity="0.7" stroke="#bcbd22" stroke-opacity="0.7" stroke-width="1.389"/>
<circle cx="740.70" cy="732.85" r="3.804" fill="#8c564b" fill-opacity="0.7" stroke="#8c564b" stroke-opacity="0.7" stroke-width="1.389"/>
<circle cx="747.10" cy="736.25" r="3.804" fill="#8c564b" fill-opacity="0.7" stroke="#8c564b" stroke-opacity="0.7" stroke-width="1.389"/>
<circle cx="748.10" cy="739.05" r="3.804" fill="#8c564b" fill-opacity="0.7" stroke="#8c564b" stroke-opacity="0.7" stroke-width="1.389"/>
<circle cx="733.60" cy="739.75" r="3.804" fill="#8c564b" fill-opacity="0.7" stroke="#8c564b" stroke-opacity="0.7" stroke-width="1.389"/>
<circle cx="763.00" cy="747.85" r="3.804" fill="#d62728" fill-opacity="0.7" stroke="#d62728" stroke-opacity="0.7" stroke-width="1.389"/>
<circle cx="741.80" cy="752.80" r="3.804" fill="#e377c2" fill-opacity="0.7" stroke="#e377c2" stroke-opacity="0.7" stroke-width="1.389"/>
<circle cx="741.80" cy="752.80" r="3.804" fill="#e377c2" fill-opacity="0.7" stroke="#e377c2" stroke-opacity="0.7" stroke-width="1.389"/>
<circle cx="748.70" cy="751.25" r="3.804" fill="#8c564b" fill-opacity="0.7" stroke="#8c564b" stroke-opacity="0.7" stroke-width="1.389"/>
<circle cx="748.60" cy="753.35" r="3.804" fill="#8c564b" fill-opacity="0.7" stroke="#8c564b" stroke-opacity="0.7" stroke-width="1.389"/>
<circle cx="756.60" cy="775.95" r="3.804" fill="#8c564b" fill-opacity="0.7" stroke="#8c564b" stroke-opacity="0.7" stroke-width="1.389"/>
<circle cx="816.10" cy="819.05" r="3.804" fill="#8c564b" fill-opacity="0.7" stroke="#8c564b" stroke-opacity="0.7" stroke-width="1.389"/>
<circle cx="811.90" cy="834.75" r="3.804" fill="#8c564b" fill-opacity="0.7" stroke="#8c564b" stroke-opacity="0.7" stroke-width="1.389"/>
<circle cx="898.20" cy="684.35" r="3.804" fill="#17becf" fill-opacity="0.7" stroke="#17becf" stroke-opacity="0.7" stroke-width="1.389"/>
<circle cx="898.20" cy="684.45" r="3.804" fill="#17becf" fill-opacity="0.7" stroke="#17becf" stroke-opacity="0.7" stroke-width="1.389"/>
<circle cx="909.30" cy="681.75" r="3.804" fill="#17becf" fill-opacity="0.7" stroke="#17becf" stroke-opacity="0.7" stroke-width="1.389"/>
<circle cx="867.90" cy="705.45" r="3.804" fill="#d62728" fill-opacity="0.7" stroke="#d62728" stroke-opacity="0.7" stroke-width="1.389"/>
<circle cx="859.30" cy="711.95" r="3.804" fill="#d62728" fill-opacity="0.7" stroke="#d62728" stroke-opacity="0.7" stroke-width="1.389"/>
<circle cx="910.20" cy="708.55" r="3.804" fill="#ff7f0e" fill-opacity="0.7" stroke="#ff7f0e" stroke-opacity="0.7" stroke-width="1.389"/>
<circle cx="911.00" cy="706.15" r="3.804" fill="#ff7f0e" fill-opacity="0.7" stroke="#ff7f0e" stroke-opacity="0.7" stroke-width="1.389"/>
<circle cx="960.60" cy="791.25" r="3.804" fill="#8c564b" fill-opacity="0.7" stroke="#8c564b" stroke-opacity="0.7" stroke-width="1.389"/>
<circle cx="1014.00" cy="800.45" r="3.804" fill="#17becf" fill-opacity="0.7" stroke="#17becf" stroke-opacity="0.7" stroke-width="1.389"/>
<circle cx="998.50" cy="810.25" r="3.804" fill="#17becf" fill-opacity="0.7" stroke="#17becf" stroke-opacity="0.7" stroke-width="1.389"/>
<circle cx="998.50" cy="810.35" r="3.804" fill="#17becf" fill-opacity="0.7" stroke="#17becf" stroke-opacity="0.7" stroke-width="1.389"/>
<circle cx="998.50" cy="810.30" r="3.804" fill="#17becf" fill-opacity="0.7" stroke="#17becf" stroke-opacity="0.7" stroke-width="1.389"/>
<circle cx="1008.10" cy="812.45" r="3.804" fill="#17becf" fill-opacity="0.7" stroke="#17becf" stroke-opacity="0.7" stroke-width="1.389"/>
<circle cx="1004.60" cy="834.45" r="3.804" fill="#17becf" fill-opacity="0.7" stroke="#17becf" stroke-opacity="0.7" stroke-width="1.389"/>
<circle cx="1016.90" cy="838.25" r="3.804" fill="#ff7f0e" fill-opacity="0.7" stroke="#ff7f0e" stroke-opacity="0.7" stroke-width="1.389"/>
<circle cx="998.20" cy="844.05" r="3.804" fill="#17becf" fill-opacity="0.7" stroke="#17becf" stroke-opacity="0.7" stroke-width="1.389"/>
<circle cx="1159.90" cy="700.55" r="3.804" fill="#1f77b4" fill-opacity="0.7" stroke="#1f77b4" stroke-opacity="0.7" stroke-width="1.389"/>
<circle cx="1088.60" cy="710.75" r="3.804" fill="#17becf" fill-opacity="0.7" stroke="#17becf" stroke-opacity="0.7" stroke-width="1.389"/>
<circle cx="1114.10" cy="711.05" r="3.804" fill="#17becf" fill-opacity="0.7" stroke="#17becf" stroke-opacity="0.7" stroke-width="1.389"/>
<circle cx="1063.10" cy="749.05" r="3.804" fill="#17becf" fill-opacity="0.7" stroke="#17becf" stroke-opacity="0.7" stroke-width="1.389"/>
<circle cx="1142.10" cy="751.75" r="3.804" fill="#17becf" fill-opacity="0.7" stroke="#17becf" stroke-opacity="0.7" stroke-width="1.389"/>
<circle cx="1103.40" cy="767.65" r="3.804" fill="#17becf" fill-opacity="0.7" stroke="#17becf" stroke-opacity="0.7" stroke-width="1.389"/>
<circle cx="1103.40" cy="767.85" r="3.804" fill="#17becf" fill-opacity="0.7" stroke="#17becf" stroke-opacity="0.7" stroke-width="1.389"/>
<circle cx="1147.40" cy="776.25" r="3.804" fill="#ff7f0e" fill-opacity="0.7" stroke="#ff7f0e" stroke-opacity="0.7" stroke-width="1.389"/>
<circle cx="1160.60" cy="778.05" r="3.804" fill="#ff7f0e" fill-opacity="0.7" stroke="#ff7f0e" stroke-opacity="0.7" stroke-width="1.389"/>
<circle cx="1165.80" cy="778.45" r="3.804" fill="#17becf" fill-opacity="0.7" stroke="#17becf" stroke-opacity="0.7" stroke-width="1.389"/>
<circle cx="1105.80" cy="789.55" r="3.804" fill="#17becf" fill-opacity="0.7" stroke="#17becf" stroke-opacity="0.7" stroke-width="1.389"/>
<circle cx="1050.10" cy="802.95" r="3.804" fill="#17becf" fill-opacity="0.7" stroke="#17becf" stroke-opacity="0.7" stroke-width="1.389"/>
<circle cx="870.60" cy="841.25" r="3.804" fill="#bcbd22" fill-opacity="0.7" stroke="#bcbd22" stroke-opacity="0.7" stroke-width="1.389"/>
<circle cx="860.70" cy="859.55" r="3.804" fill="#bcbd22" fill-opacity="0.7" stroke="#bcbd22" stroke-opacity="0.7" stroke-width="1.389"/>
<circle cx="865.90" cy="869.15" r="3.804" fill="#ff7f0e" fill-opacity="0.7" stroke="#ff7f0e" stroke-opacity="0.7" stroke-width="1.389"/>
<circle cx="871.80" cy="867.25" r="3.804" fill="#ff7f0e" fill-opacity="0.7" stroke="#ff7f0e" stroke-opacity="0.7" stroke-width="1.389"/>
<circle cx="884.90" cy="869.05" r="3.804" fill="#ff7f0e" fill-opacity="0.7" stroke="#ff7f0e" stroke-opacity="0.7" stroke-width="1.389"/>
<circle cx="893.30" cy="864.45" r="3.804" fill="#ff7f0e" fill-opacity="0.7" stroke="#ff7f0e" stroke-opacity="0.7" stroke-width="1.389"/>
<circle cx="842.90" cy="874.75" r="3.804" fill="#ff7f0e" fill-opacity="0.7" stroke="#ff7f0e" stroke-opacity="0.7" stroke-width="1.389"/>
<circle cx="862.90" cy="874.45" r="3.804" fill="#ff7f0e" fill-opacity="0.7" stroke="#ff7f0e" stroke-opacity="0.7" stroke-width="1.389"/>
<circle cx="863.40" cy="876.85" r="3.804" fill="#ff7f0e" fill-opacity="0.7" stroke="#ff7f0e" stroke-opacity="0.7" stroke-width="1.389"/>
<circle cx="857.00" cy="889.45" r="3.804" fill="#ff7f0e" fill-opacity="0.7" stroke="#ff7f0e" stroke-opacity="0.7" stroke-width="1.389"/>
<circle cx="854.40" cy="893.75" r="3.804" fill="#ff7f0e" fill-opacity="0.7" stroke="#ff7f0e" stroke-opacity="0.7" stroke-width="1.389"/>
<circle cx="868.30" cy="890.95" r="3.804" fill="#ff7f0e" fill-opacity="0.7" stroke="#ff7f0e" stroke-opacity="0.7" stroke-width="1.389"/>
<circle cx="856.60" cy="901.85" r="3.804" fill="#ff7f0e" fill-opacity="0.7" stroke="#ff7f0e" stroke-opacity="0.7" stroke-width="1.389"/>
<circle cx="857.00" cy="902.70" r="3.804" fill="#ff7f0e" fill-opacity="0.7" stroke="#ff7f0e" stroke-opacity="0.7" stroke-width="1.389"/>
<circle cx="857.00" cy="902.55" r="3.804" fill="#ff7f0e" fill-opacity="0.7" stroke="#ff7f0e" stroke-opacity="0.7" stroke-width="1.389"/>
<circle cx="872.90" cy="908.15" r="3.804" fill="#ff7f0e" fill-opacity="0.7" stroke="#ff7f0e" stroke-opacity="0.7" stroke-width="1.389"/>
<circle cx="872.90" cy="908.35" r="3.804" fill="#ff7f0e" fill-opacity="0.7" stroke="#ff7f0e" stroke-opacity="0.7" stroke-width="1.389"/>
<circle cx="863.90" cy="911.75" r="3.804" fill="#ff7f0e" fill-opacity="0.7" stroke="#ff7f0e" stroke-opacity="0.7" stroke-width="1.389"/>
<circle cx="885.80" cy="916.75" r="3.804" fill="#ff7f0e" fill-opacity="0.7" stroke="#ff7f0e" stroke-opacity="0.7" stroke-width="1.389"/>
<circle cx="883.30" cy="946.75" r="3.804" fill="#ff7f0e" fill-opacity="0.7" stroke="#ff7f0e" stroke-opacity="0.7" stroke-width="1.389"/>
<circle cx="867.30" cy="940.25" r="3.804" fill="#ff7f0e" fill-opacity="0.7" stroke="#ff7f0e" stroke-opacity="0.7" stroke-width="1.389"/>
<circle cx="961.90" cy="840.85" r="3.804" fill="#ff7f0e" fill-opacity="0.7" stroke="#ff7f0e" stroke-opacity="0.7" stroke-width="1.389"/>
<circle cx="972.40" cy="846.55" r="3.804" fill="#ff7f0e" fill-opacity="0.7" stroke="#ff7f0e" stroke-opacity="0.7" stroke-width="1.389"/>
<circle cx="983.10" cy="864.55" r="3.804" fill="#ff7f0e" fill-opacity="0.7" stroke="#ff7f0e" stroke-opacity="0.7" stroke-width="1.389"/>
<line x1="683.5" y1="532.33" x2="683.5" y2="966.28" stroke="#b0b0b0" stroke-width="1.111"/>
<line x1="794.5" y1="532.33" x2="794.5" y2="966.28" stroke="#b0b0b0" stroke-width="1.111"/>
<line x1="904.5" y1="532.33" x2="904.5" y2="966.28" stroke="#b0b0b0" stroke-width="1.111"/>
<line x1="1015.5" y1="532.33" x2="1015.5" y2="966.28" stroke="#b0b0b0" stroke-width="1.111"/>
<line x1="1125.5" y1="532.33" x2="1125.5" y2="966.28" stroke="#b0b0b0" stroke-width="1.111"/>
<line x1="653.35" y1="947.5" x2="1190.00" y2="947.5" stroke="#b0b0b0" stroke-width="1.111"/>
<line x1="653.35" y1="858.5" x2="1190.00" y2="858.5" stroke="#b0b0b0" stroke-width="1.111"/>
<line x1="653.35" y1="770.5" x2="1190.00" y2="770.5" stroke="#b0b0b0" stroke-width="1.111"/>
<line x1="653.35" y1="682.5" x2="1190.00" y2="682.5" stroke="#b0b0b0" stroke-width="1.111"/>
<line x1="653.35" y1="594.5" x2="1190.00" y2="594.5" stroke="#b0b0b0" stroke-width="1.111"/>
<rect x="653.5" y="532.5" width="537.0" height="434.0" fill="none" stroke="#000" stroke-width="1.111" stroke-linecap="square"/>
<line x1="683.5" y1="966.5" x2="683.5" y2="971.5" stroke="#000" stroke-width="1.111"/>
<text x="667.07 677.62 686.57 690.82" y="0" transform="translate(0 987.0) scale(1 0.987)" style="font-size:13.889px;font-family:'DejaVu Sans',sans-serif">−1.0</text>
<line x1="648.5" y1="947.5" x2="653.5" y2="947.5" stroke="#000" stroke-width="1.111"/>
<text x="610.07 620.62 629.57 633.82" y="0" transform="translate(0 953.0) scale(1 0.987)" style="font-size:13.889px;font-family:'DejaVu Sans',sans-serif">−1.0</text>
<line x1="794.5" y1="966.5" x2="794.5" y2="971.5" stroke="#000" stroke-width="1.111"/>
<text x="777.99 788.54 797.39 801.74" y="0" transform="translate(0 987.0) scale(1 0.987)" style="font-size:13.889px;font-family:'DejaVu Sans',sans-serif">−0.5</text>
<line x1="648.5" y1="858.5" x2="653.5" y2="858.5" stroke="#000" stroke-width="1.111"/>
<text x="610.99 621.54 630.39 634.74" y="0" transform="translate(0 864.0) scale(1 0.987)" style="font-size:13.889px;font-family:'DejaVu Sans',sans-serif">−0.5</text>
<line x1="904.5" y1="966.5" x2="904.5" y2="971.5" stroke="#000" stroke-width="1.111"/>
<text x="893.95 901.75 906.07" y="0" transform="translate(0 987.0) scale(1 0.987)" style="font-size:13.889px;font-family:'DejaVu Sans',sans-serif">0.0</text>
<line x1="648.5" y1="770.5" x2="653.5" y2="770.5" stroke="#000" stroke-width="1.111"/>
<text x="622.95 630.75 635.07" y="0" transform="translate(0 776.0) scale(1 0.987)" style="font-size:13.889px;font-family:'DejaVu Sans',sans-serif">0.0</text>
<line x1="1015.5" y1="966.5" x2="1015.5" y2="971.5" stroke="#000" stroke-width="1.111"/>
<text x="1004.95 1012.75 1017.10" y="0" transform="translate(0 987.0) scale(1 0.987)" style="font-size:13.889px;font-family:'DejaVu Sans',sans-serif">0.5</text>
<line x1="648.5" y1="682.5" x2="653.5" y2="682.5" stroke="#000" stroke-width="1.111"/>
<text x="622.95 630.75 635.10" y="0" transform="translate(0 688.0) scale(1 0.987)" style="font-size:13.889px;font-family:'DejaVu Sans',sans-serif">0.5</text>
<line x1="1125.5" y1="966.5" x2="1125.5" y2="971.5" stroke="#000" stroke-width="1.111"/>
<text x="1115.07 1122.84 1127.18" y="0" transform="translate(0 987.0) scale(1 0.987)" style="font-size:13.889px;font-family:'DejaVu Sans',sans-serif">1.0</text>
<line x1="648.5" y1="594.5" x2="653.5" y2="594.5" stroke="#000" stroke-width="1.111"/>
<text x="622.07 629.84 634.18" y="0" transform="translate(0 600.0) scale(1 0.987)" style="font-size:13.889px;font-family:'DejaVu Sans',sans-serif">1.0</text>
<text x="877.97 888.82 902.71 907.71 918.46 924.87 934.82 946.49 957.88" y="0" transform="translate(0 524.0) scale(1 1.07)" style="font-size:16.667px;font-family:'DejaVu Sans',sans-serif">K=7 (PCA)</text></g>
<g><circle cx="1402.60" cy="643.05" r="3.804" fill="#ff7f0e" fill-opacity="0.7" stroke="#ff7f0e" stroke-opacity="0.7" stroke-width="1.389"/>
<circle cx="1298.30" cy="656.25" r="3.804" fill="#ff7f0e" fill-opacity="0.7" stroke="#ff7f0e" stroke-opacity="0.7" stroke-width="1.389"/>
<circle cx="1312.80" cy="667.25" r="3.804" fill="#ff7f0e" fill-opacity="0.7" stroke="#ff7f0e" stroke-opacity="0.7" stroke-width="1.389"/>
<circle cx="1272.80" cy="675.05" r="3.804" fill="#ff7f0e" fill-opacity="0.7" stroke="#ff7f0e" stroke-opacity="0.7" stroke-width="1.389"/>
<circle cx="1448.90" cy="580.75" r="3.804" fill="#2ca02c" fill-opacity="0.7" stroke="#2ca02c" stroke-opacity="0.7" stroke-width="1.389"/>
<circle cx="1580.30" cy="558.55" r="3.804" fill="#bcbd22" fill-opacity="0.7" stroke="#bcbd22" stroke-opacity="0.7" stroke-width="1.389"/>
<circle cx="1585.30" cy="584.55" r="3.804" fill="#bcbd22" fill-opacity="0.7" stroke="#bcbd22" stroke-opacity="0.7" stroke-width="1.389"/>
<circle cx="1516.50" cy="612.05" r="3.804" fill="#ff7f0e" fill-opacity="0.7" stroke="#ff7f0e" stroke-opacity="0.7" stroke-width="1.389"/>
<circle cx="1499.30" cy="632.75" r="3.804" fill="#ff7f0e" fill-opacity="0.7" stroke="#ff7f0e" stroke-opacity="0.7" stroke-width="1.389"/>
<circle cx="1484.70" cy="643.75" r="3.804" fill="#ff7f0e" fill-opacity="0.7" stroke="#ff7f0e" stroke-opacity="0.7" stroke-width="1.389"/>
<circle cx="1514.60" cy="645.45" r="3.804" fill="#ff7f0e" fill-opacity="0.7" stroke="#ff7f0e" stroke-opacity="0.7" stroke-width="1.389"/>
<circle cx="1498.80" cy="654.25" r="3.804" fill="#8c564b" fill-opacity="0.7" stroke="#8c564b" stroke-opacity="0.7" stroke-width="1.389"/>
<circle cx="1504.80" cy="669.15" r="3.804" fill="#7f7f7f" fill-opacity="0.7" stroke="#7f7f7f" stroke-opacity="0.7" stroke-width="1.389"/>
<circle cx="1631.10" cy="552.25" r="3.804" fill="#ff7f0e" fill-opacity="0.7" stroke="#ff7f0e" stroke-opacity="0.7" stroke-width="1.389"/>
<circle cx="1667.10" cy="614.45" r="3.804" fill="#bcbd22" fill-opacity="0.7" stroke="#bcbd22" stroke-opacity="0.7" stroke-width="1.389"/>
<circle cx="1286.30" cy="696.55" r="3.804" fill="#ff7f0e" fill-opacity="0.7" stroke="#ff7f0e" stroke-opacity="0.7" stroke-width="1.389"/>
<circle cx="1306.60" cy="708.45" r="3.804" fill="#ff7f0e" fill-opacity="0.7" stroke="#ff7f0e" stroke-opacity="0.7" stroke-width="1.389"/>
<circle cx="1298.50" cy="714.95" r="3.804" fill="#ff7f0e" fill-opacity="0.7" stroke="#ff7f0e" stroke-opacity="0.7" stroke-width="1.389"/>
<circle cx="1355.60" cy="713.05" r="3.804" fill="#ff7f0e" fill-opacity="0.7" stroke="#ff7f0e" stroke-opacity="0.7" stroke-width="1.389"/>
<circle cx="1335.70" cy="732.85" r="3.804" fill="#ff7f0e" fill-opacity="0.7" stroke="#ff7f0e" stroke-opacity="0.7" stroke-width="1.389"/>
<circle cx="1342.10" cy="736.25" r="3.804" fill="#ff7f0e" fill-opacity="0.7" stroke="#ff7f0e" stroke-opacity="0.7" stroke-width="1.389"/>
<circle cx="1343.10" cy="739.05" r="3.804" fill="#17becf" fill-opacity="0.7" stroke="#17becf" stroke-opacity="0.7" stroke-width="1.389"/>
<circle cx="1328.60" cy="739.75" r="3.804" fill="#ff7f0e" fill-opacity="0.7" stroke="#ff7f0e" stroke-opacity="0.7" stroke-width="1.389"/>
<circle cx="1358.00" cy="747.85" r="3.804" fill="#ff7f0e" fill-opacity="0.7" stroke="#ff7f0e" stroke-opacity="0.7" stroke-width="1.389"/>
<circle cx="1336.80" cy="752.80" r="3.804" fill="#ff7f0e" fill-opacity="0.7" stroke="#ff7f0e" stroke-opacity="0.7" stroke-width="1.389"/>
<circle cx="1336.80" cy="752.80" r="3.804" fill="#ff7f0e" fill-opacity="0.7" stroke="#ff7f0e" stroke-opacity="0.7" stroke-width="1.389"/>
<circle cx="1343.70" cy="751.25" r="3.804" fill="#ff7f0e" fill-opacity="0.7" stroke="#ff7f0e" stroke-opacity="0.7" stroke-width="1.389"/>
<circle cx="1343.60" cy="753.35" r="3.804" fill="#ff7f0e" fill-opacity="0.7" stroke="#ff7f0e" stroke-opacity="0.7" stroke-width="1.389"/>
<circle cx="1351.60" cy="775.95" r="3.804" fill="#1f77b4" fill-opacity="0.7" stroke="#1f77b4" stroke-opacity="0.7" stroke-width="1.389"/>
<circle cx="1411.10" cy="819.05" r="3.804" fill="#1f77b4" fill-opacity="0.7" stroke="#1f77b4" stroke-opacity="0.7" stroke-width="1.389"/>
<circle cx="1406.90" cy="834.75" r="3.804" fill="#1f77b4" fill-opacity="0.7" stroke="#1f77b4" stroke-opacity="0.7" stroke-width="1.389"/>
<circle cx="1493.20" cy="684.35" r="3.804" fill="#8c564b" fill-opacity="0.7" stroke="#8c564b" stroke-opacity="0.7" stroke-width="1.389"/>
<circle cx="1493.20" cy="684.45" r="3.804" fill="#8c564b" fill-opacity="0.7" stroke="#8c564b" stroke-opacity="0.7" stroke-width="1.389"/>
<circle cx="1504.30" cy="681.75" r="3.804" fill="#8c564b" fill-opacity="0.7" stroke="#8c564b" stroke-opacity="0.7" stroke-width="1.389"/>
<circle cx="1462.90" cy="705.45" r="3.804" fill="#ff7f0e" fill-opacity="0.7" stroke="#ff7f0e" stroke-opacity="0.7" stroke-width="1.389"/>
<circle cx="1454.30" cy="711.95" r="3.804" fill="#ff7f0e" fill-opacity="0.7" stroke="#ff7f0e" stroke-opacity="0.7" stroke-width="1.389"/>
<circle cx="1505.20" cy="708.55" r="3.804" fill="#9467bd" fill-opacity="0.7" stroke="#9467bd" stroke-opacity="0.7" stroke-width="1.389"/>
<circle cx="1506.00" cy="706.15" r="3.804" fill="#9467bd" fill-opacity="0.7" stroke="#9467bd" stroke-opacity="0.7" stroke-width="1.389"/>
<circle cx="1555.60" cy="791.25" r="3.804" fill="#1f77b4" fill-opacity="0.7" stroke="#1f77b4" stroke-opacity="0.7" stroke-width="1.389"/>
<circle cx="1609.00" cy="800.45" r="3.804" fill="#8c564b" fill-opacity="0.7" stroke="#8c564b" stroke-opacity="0.7" stroke-width="1.389"/>
<circle cx="1593.50" cy="810.25" r="3.804" fill="#8c564b" fill-opacity="0.7" stroke="#8c564b" stroke-opacity="0.7" stroke-width="1.389"/>
<circle cx="1593.50" cy="810.35" r="3.804" fill="#8c564b" fill-opacity="0.7" stroke="#8c564b" stroke-opacity="0.7" stroke-width="1.389"/>
<circle cx="1593.50" cy="810.30" r="3.804" fill="#8c564b" fill-opacity="0.7" stroke="#8c564b" stroke-opacity="0.7" stroke-width="1.389"/>
<circle cx="1603.10" cy="812.45" r="3.804" fill="#8c564b" fill-opacity="0.7" stroke="#8c564b" stroke-opacity="0.7" stroke-width="1.389"/>
<circle cx="1599.60" cy="834.45" r="3.804" fill="#1f77b4" fill-opacity="0.7" stroke="#1f77b4" stroke-opacity="0.7" stroke-width="1.389"/>
<circle cx="1611.90" cy="838.25" r="3.804" fill="#9467bd" fill-opacity="0.7" stroke="#9467bd" stroke-opacity="0.7" stroke-width="1.389"/>
<circle cx="1593.20" cy="844.05" r="3.804" fill="#8c564b" fill-opacity="0.7" stroke="#8c564b" stroke-opacity="0.7" stroke-width="1.389"/>
<circle cx="1754.90" cy="700.55" r="3.804" fill="#bcbd22" fill-opacity="0.7" stroke="#bcbd22" stroke-opacity="0.7" stroke-width="1.389"/>
<circle cx="1683.60" cy="710.75" r="3.804" fill="#bcbd22" fill-opacity="0.7" stroke="#bcbd22" stroke-opacity="0.7" stroke-width="1.389"/>
<circle cx="1709.10" cy="711.05" r="3.804" fill="#bcbd22" fill-opacity="0.7" stroke="#bcbd22" stroke-opacity="0.7" stroke-width="1.389"/>
<circle cx="1658.10" cy="749.05" r="3.804" fill="#8c564b" fill-opacity="0.7" stroke="#8c564b" stroke-opacity="0.7" stroke-width="1.389"/>
<circle cx="1737.10" cy="751.75" r="3.804" fill="#bcbd22" fill-opacity="0.7" stroke="#bcbd22" stroke-opacity="0.7" stroke-width="1.389"/>
<circle cx="1698.40" cy="767.65" r="3.804" fill="#bcbd22" fill-opacity="0.7" stroke="#bcbd22" stroke-opacity="0.7" stroke-width="1.389"/>
<circle cx="1698.40" cy="767.85" r="3.804" fill="#bcbd22" fill-opacity="0.7" stroke="#bcbd22" stroke-opacity="0.7" stroke-width="1.389"/>
<circle cx="1742.40" cy="776.25" r="3.804" fill="#2ca02c" fill-opacity="0.7" stroke="#2ca02c" stroke-opacity="0.7" stroke-width="1.389"/>
<circle cx="1755.60" cy="778.05" r="3.804" fill="#2ca02c" fill-opacity="0.7" stroke="#2ca02c" stroke-opacity="0.7" stroke-width="1.389"/>
<circle cx="1760.80" cy="778.45" r="3.804" fill="#bcbd22" fill-opacity="0.7" stroke="#bcbd22" stroke-opacity="0.7" stroke-width="1.389"/>
<circle cx="1700.80" cy="789.55" r="3.804" fill="#bcbd22" fill-opacity="0.7" stroke="#bcbd22" stroke-opacity="0.7" stroke-width="1.389"/>
<circle cx="1645.10" cy="802.95" r="3.804" fill="#8c564b" fill-opacity="0.7" stroke="#8c564b" stroke-opacity="0.7" stroke-width="1.389"/>
<circle cx="1465.60" cy="841.25" r="3.804" fill="#ff7f0e" fill-opacity="0.7" stroke="#ff7f0e" stroke-opacity="0.7" stroke-width="1.389"/>
<circle cx="1455.70" cy="859.55" r="3.804" fill="#ff7f0e" fill-opacity="0.7" stroke="#ff7f0e" stroke-opacity="0.7" stroke-width="1.389"/>
<circle cx="1460.90" cy="869.15" r="3.804" fill="#1f77b4" fill-opacity="0.7" stroke="#1f77b4" stroke-opacity="0.7" stroke-width="1.389"/>
<circle cx="1466.80" cy="867.25" r="3.804" fill="#1f77b4" fill-opacity="0.7" stroke="#1f77b4" stroke-opacity="0.7" stroke-width="1.389"/>
<circle cx="1479.90" cy="869.05" r="3.804" fill="#1f77b4" fill-opacity="0.7" stroke="#1f77b4" stroke-opacity="0.7" stroke-width="1.389"/>
<circle cx="1488.30" cy="864.45" r="3.804" fill="#1f77b4" fill-opacity="0.7" stroke="#1f77b4" stroke-opacity="0.7" stroke-width="1.389"/>
<circle cx="1437.90" cy="874.75" r="3.804" fill="#1f77b4" fill-opacity="0.7" stroke="#1f77b4" stroke-opacity="0.7" stroke-width="1.389"/>
<circle cx="1457.90" cy="874.45" r="3.804" fill="#1f77b4" fill-opacity="0.7" stroke="#1f77b4" stroke-opacity="0.7" stroke-width="1.389"/>
<circle cx="1458.40" cy="876.85" r="3.804" fill="#1f77b4" fill-opacity="0.7" stroke="#1f77b4" stroke-opacity="0.7" stroke-width="1.389"/>
<circle cx="1452.00" cy="889.45" r="3.804" fill="#1f77b4" fill-opacity="0.7" stroke="#1f77b4" stroke-opacity="0.7" stroke-width="1.389"/>
<circle cx="1449.40" cy="893.75" r="3.804" fill="#1f77b4" fill-opacity="0.7" stroke="#1f77b4" stroke-opacity="0.7" stroke-width="1.389"/>
<circle cx="1463.30" cy="890.95" r="3.804" fill="#1f77b4" fill-opacity="0.7" stroke="#1f77b4" stroke-opacity="0.7" stroke-width="1.389"/>
<circle cx="1451.60" cy="901.85" r="3.804" fill="#1f77b4" fill-opacity="0.7" stroke="#1f77b4" stroke-opacity="0.7" stroke-width="1.389"/>
<circle cx="1452.00" cy="902.70" r="3.804" fill="#1f77b4" fill-opacity="0.7" stroke="#1f77b4" stroke-opacity="0.7" stroke-width="1.389"/>
<circle cx="1452.00" cy="902.55" r="3.804" fill="#1f77b4" fill-opacity="0.7" stroke="#1f77b4" stroke-opacity="0.7" stroke-width="1.389"/>
<circle cx="1467.90" cy="908.15" r="3.804" fill="#9467bd" fill-opacity="0.7" stroke="#9467bd" stroke-opacity="0.7" stroke-width="1.389"/>
<circle cx="1467.90" cy="908.35" r="3.804" fill="#9467bd" fill-opacity="0.7" stroke="#9467bd" stroke-opacity="0.7" stroke-width="1.389"/>
<circle cx="1458.90" cy="911.75" r="3.804" fill="#9467bd" fill-opacity="0.7" stroke="#9467bd" stroke-opacity="0.7" stroke-width="1.389"/>
<circle cx="1480.80" cy="916.75" r="3.804" fill="#9467bd" fill-opacity="0.7" stroke="#9467bd" stroke-opacity="0.7" stroke-width="1.389"/>
<circle cx="1478.30" cy="946.75" r="3.804" fill="#9467bd" fill-opacity="0.7" stroke="#9467bd" stroke-opacity="0.7" stroke-width="1.389"/>
<circle cx="1462.30" cy="940.25" r="3.804" fill="#1f77b4" fill-opacity="0.7" stroke="#1f77b4" stroke-opacity="0.7" stroke-width="1.389"/>
<circle cx="1556.90" cy="840.85" r="3.804" fill="#bcbd22" fill-opacity="0.7" stroke="#bcbd22" stroke-opacity="0.7" stroke-width="1.389"/>
<circle cx="1567.40" cy="846.55" r="3.804" fill="#bcbd22" fill-opacity="0.7" stroke="#bcbd22" stroke-opacity="0.7" stroke-width="1.389"/>
<circle cx="1578.10" cy="864.55" r="3.804" fill="#bcbd22" fill-opacity="0.7" stroke="#bcbd22" stroke-opacity="0.7" stroke-width="1.389"/>
<line x1="1278.5" y1="532.33" x2="1278.5" y2="966.28" stroke="#b0b0b0" stroke-width="1.111"/>
<line x1="1389.5" y1="532.33" x2="1389.5" y2="966.28" stroke="#b0b0b0" stroke-width="1.111"/>
<line x1="1499.5" y1="532.33" x2="1499.5" y2="966.28" stroke="#b0b0b0" stroke-width="1.111"/>
<line x1="1610.5" y1="532.33" x2="1610.5" y2="966.28" stroke="#b0b0b0" stroke-width="1.111"/>
<line x1="1720.5" y1="532.33" x2="1720.5" y2="966.28" stroke="#b0b0b0" stroke-width="1.111"/>
<line x1="1248.35" y1="947.5" x2="1785.00" y2="947.5" stroke="#b0b0b0" stroke-width="1.111"/>
<line x1="1248.35" y1="858.5" x2="1785.00" y2="858.5" stroke="#b0b0b0" stroke-width="1.111"/>
<line x1="1248.35" y1="770.5" x2="1785.00" y2="770.5" stroke="#b0b0b0" stroke-width="1.111"/>
<line x1="1248.35" y1="682.5" x2="1785.00" y2="682.5" stroke="#b0b0b0" stroke-width="1.111"/>
<line x1="1248.35" y1="594.5" x2="1785.00" y2="594.5" stroke="#b0b0b0" stroke-width="1.111"/>
<rect x="1248.5" y="532.5" width="537.0" height="434.0" fill="none" stroke="#000" stroke-width="1.111" stroke-linecap="square"/>
<line x1="1278.5" y1="966.5" x2="1278.5" y2="971.5" stroke="#000" stroke-width="1.111"/>
<text x="1262.07 1272.62 1281.57 1285.82" y="0" transform="translate(0 987.0) scale(1 0.987)" style="font-size:13.889px;font-family:'DejaVu Sans',sans-serif">−1.0</text>
<line x1="1243.5" y1="947.5" x2="1248.5" y2="947.5" stroke="#000" stroke-width="1.111"/>
<text x="1205.07 1215.62 1224.57 1228.82" y="0" transform="translate(0 953.0) scale(1 0.987)" style="font-size:13.889px;font-family:'DejaVu Sans',sans-serif">−1.0</text>
<line x1="1389.5" y1="966.5" x2="1389.5" y2="971.5" stroke="#000" stroke-width="1.111"/>
<text x="1372.99 1383.54 1392.39 1396.74" y="0" transform="translate(0 987.0) scale(1 0.987)" style="font-size:13.889px;font-family:'DejaVu Sans',sans-serif">−0.5</text>
<line x1="1243.5" y1="858.5" x2="1248.5" y2="858.5" stroke="#000" stroke-width="1.111"/>
<text x="1205.99 1216.54 1225.39 1229.74" y="0" transform="translate(0 864.0) scale(1 0.987)" style="font-size:13.889px;font-family:'DejaVu Sans',sans-serif">−0.5</text>
<line x1="1499.5" y1="966.5" x2="1499.5" y2="971.5" stroke="#000" stroke-width="1.111"/>
<text x="1488.95 1496.75 1501.07" y="0" transform="translate(0 987.0) scale(1 0.987)" style="font-size:13.889px;font-family:'DejaVu Sans',sans-serif">0.0</text>
<line x1="1243.5" y1="770.5" x2="1248.5" y2="770.5" stroke="#000" stroke-width="1.111"/>
<text x="1217.95 1225.75 1230.07" y="0" transform="translate(0 776.0) scale(1 0.987)" style="font-size:13.889px;font-family:'DejaVu Sans',sans-serif">0.0</text>
<line x1="1610.5" y1="966.5" x2="1610.5" y2="971.5" stroke="#000" stroke-width="1.111"/>
<text x="1599.95 1607.75 1612.10" y="0" transform="translate(0 987.0) scale(1 0.987)" style="font-size:13.889px;font-family:'DejaVu Sans',sans-serif">0.5</text>
<line x1="1243.5" y1="682.5" x2="1248.5" y2="682.5" stroke="#000" stroke-width="1.111"/>
<text x="1217.95 1225.75 1230.10" y="0" transform="translate(0 688.0) scale(1 0.987)" style="font-size:13.889px;font-family:'DejaVu Sans',sans-serif">0.5</text>
<line x1="1720.5" y1="966.5" x2="1720.5" y2="971.5" stroke="#000" stroke-width="1.111"/>
<text x="1710.07 1717.84 1722.18" y="0" transform="translate(0 987.0) scale(1 0.987)" style="font-size:13.889px;font-family:'DejaVu Sans',sans-serif">1.0</text>
<line x1="1243.5" y1="594.5" x2="1248.5" y2="594.5" stroke="#000" stroke-width="1.111"/>
<text x="1217.07 1224.84 1229.18" y="0" transform="translate(0 600.0) scale(1 0.987)" style="font-size:13.889px;font-family:'DejaVu Sans',sans-serif">1.0</text>
<text x="1472.97 1483.82 1497.71 1502.71 1513.46 1519.87 1529.82 1541.49 1552.88" y="0" transform="translate(0 524.0) scale(1 1.07)" style="font-size:16.667px;font-family:'DejaVu Sans',sans-serif">K=8 (PCA)</text></g>
<g><circle cx="212.60" cy="1138.05" r="3.804" fill="#d62728" fill-opacity="0.7" stroke="#d62728" stroke-opacity="0.7" stroke-width="1.389"/>
<circle cx="108.30" cy="1151.25" r="3.804" fill="#1f77b4" fill-opacity="0.7" stroke="#1f77b4" stroke-opacity="0.7" stroke-width="1.389"/>
<circle cx="122.80" cy="1162.25" r="3.804" fill="#1f77b4" fill-opacity="0.7" stroke="#1f77b4" stroke-opacity="0.7" stroke-width="1.389"/>
<circle cx="82.80" cy="1170.05" r="3.804" fill="#d62728" fill-opacity="0.7" stroke="#d62728" stroke-opacity="0.7" stroke-width="1.389"/>
<circle cx="258.90" cy="1075.75" r="3.804" fill="#d62728" fill-opacity="0.7" stroke="#d62728" stroke-opacity="0.7" stroke-width="1.389"/>
<circle cx="390.30" cy="1053.55" r="3.804" fill="#d62728" fill-opacity="0.7" stroke="#d62728" stroke-opacity="0.7" stroke-width="1.389"/>
<circle cx="395.30" cy="1079.55" r="3.804" fill="#d62728" fill-opacity="0.7" stroke="#d62728" stroke-opacity="0.7" stroke-width="1.389"/>
<circle cx="326.50" cy="1107.05" r="3.804" fill="#1f77b4" fill-opacity="0.7" stroke="#1f77b4" stroke-opacity="0.7" stroke-width="1.389"/>
<circle cx="309.30" cy="1127.75" r="3.804" fill="#1f77b4" fill-opacity="0.7" stroke="#1f77b4" stroke-opacity="0.7" stroke-width="1.389"/>
<circle cx="294.70" cy="1138.75" r="3.804" fill="#1f77b4" fill-opacity="0.7" stroke="#1f77b4" stroke-opacity="0.7" stroke-width="1.389"/>
<circle cx="324.60" cy="1140.45" r="3.804" fill="#1f77b4" fill-opacity="0.7" stroke="#1f77b4" stroke-opacity="0.7" stroke-width="1.389"/>
<circle cx="308.80" cy="1149.25" r="3.804" fill="#8c564b" fill-opacity="0.7" stroke="#8c564b" stroke-opacity="0.7" stroke-width="1.389"/>
<circle cx="314.80" cy="1164.15" r="3.804" fill="#2ca02c" fill-opacity="0.7" stroke="#2ca02c" stroke-opacity="0.7" stroke-width="1.389"/>
<circle cx="441.10" cy="1047.25" r="3.804" fill="#1f77b4" fill-opacity="0.7" stroke="#1f77b4" stroke-opacity="0.7" stroke-width="1.389"/>
<circle cx="477.10" cy="1109.45" r="3.804" fill="#bcbd22" fill-opacity="0.7" stroke="#bcbd22" stroke-opacity="0.7" stroke-width="1.389"/>
<circle cx="96.30" cy="1191.55" r="3.804" fill="#d62728" fill-opacity="0.7" stroke="#d62728" stroke-opacity="0.7" stroke-width="1.389"/>
<circle cx="116.60" cy="1203.45" r="3.804" fill="#d62728" fill-opacity="0.7" stroke="#d62728" stroke-opacity="0.7" stroke-width="1.389"/>
<circle cx="108.50" cy="1209.95" r="3.804" fill="#d62728" fill-opacity="0.7" stroke="#d62728" stroke-opacity="0.7" stroke-width="1.389"/>
<circle cx="165.60" cy="1208.05" r="3.804" fill="#1f77b4" fill-opacity="0.7" stroke="#1f77b4" stroke-opacity="0.7" stroke-width="1.389"/>
<circle cx="145.70" cy="1227.85" r="3.804" fill="#1f77b4" fill-opacity="0.7" stroke="#1f77b4" stroke-opacity="0.7" stroke-width="1.389"/>
<circle cx="152.10" cy="1231.25" r="3.804" fill="#1f77b4" fill-opacity="0.7" stroke="#1f77b4" stroke-opacity="0.7" stroke-width="1.389"/>
<circle cx="153.10" cy="1234.05" r="3.804" fill="#1f77b4" fill-opacity="0.7" stroke="#1f77b4" stroke-opacity="0.7" stroke-width="1.389"/>
<circle cx="138.60" cy="1234.75" r="3.804" fill="#1f77b4" fill-opacity="0.7" stroke="#1f77b4" stroke-opacity="0.7" stroke-width="1.389"/>
<circle cx="168.00" cy="1242.85" r="3.804" fill="#1f77b4" fill-opacity="0.7" stroke="#1f77b4" stroke-opacity="0.7" stroke-width="1.389"/>
<circle cx="146.80" cy="1247.80" r="3.804" fill="#1f77b4" fill-opacity="0.7" stroke="#1f77b4" stroke-opacity="0.7" stroke-width="1.389"/>
<circle cx="146.80" cy="1247.80" r="3.804" fill="#1f77b4" fill-opacity="0.7" stroke="#1f77b4" stroke-opacity="0.7" stroke-width="1.389"/>
<circle cx="153.70" cy="1246.25" r="3.804" fill="#1f77b4" fill-opacity="0.7" stroke="#1f77b4" stroke-opacity="0.7" stroke-width="1.389"/>
<circle cx="153.60" cy="1248.35" r="3.804" fill="#1f77b4" fill-opacity="0.7" stroke="#1f77b4" stroke-opacity="0.7" stroke-width="1.389"/>
<circle cx="161.60" cy="1270.95" r="3.804" fill="#1f77b4" fill-opacity="0.7" stroke="#1f77b4" stroke-opacity="0.7" stroke-width="1.389"/>
<circle cx="221.10" cy="1314.05" r="3.804" fill="#d62728" fill-opacity="0.7" stroke="#d62728" stroke-opacity="0.7" stroke-width="1.389"/>
<circle cx="216.90" cy="1329.75" r="3.804" fill="#d62728" fill-opacity="0.7" stroke="#d62728" stroke-opacity="0.7" stroke-width="1.389"/>
<circle cx="303.20" cy="1179.35" r="3.804" fill="#8c564b" fill-opacity="0.7" stroke="#8c564b" stroke-opacity="0.7" stroke-width="1.389"/>
<circle cx="303.20" cy="1179.45" r="3.804" fill="#8c564b" fill-opacity="0.7" stroke="#8c564b" stroke-opacity="0.7" stroke-width="1.389"/>
<circle cx="314.30" cy="1176.75" r="3.804" fill="#8c564b" fill-opacity="0.7" stroke="#8c564b" stroke-opacity="0.7" stroke-width="1.389"/>
<circle cx="272.90" cy="1200.45" r="3.804" fill="#1f77b4" fill-opacity="0.7" stroke="#1f77b4" stroke-opacity="0.7" stroke-width="1.389"/>
<circle cx="264.30" cy="1206.95" r="3.804" fill="#1f77b4" fill-opacity="0.7" stroke="#1f77b4" stroke-opacity="0.7" stroke-width="1.389"/>
<circle cx="315.20" cy="1203.55" r="3.804" fill="#ff7f0e" fill-opacity="0.7" stroke="#ff7f0e" stroke-opacity="0.7" stroke-width="1.389"/>
<circle cx="316.00" cy="1201.15" r="3.804" fill="#ff7f0e" fill-opacity="0.7" stroke="#ff7f0e" stroke-opacity="0.7" stroke-width="1.389"/>
<circle cx="365.60" cy="1286.25" r="3.804" fill="#d62728" fill-opacity="0.7" stroke="#d62728" stroke-opacity="0.7" stroke-width="1.389"/>
<circle cx="419.00" cy="1295.45" r="3.804" fill="#2ca02c" fill-opacity="0.7" stroke="#2ca02c" stroke-opacity="0.7" stroke-width="1.389"/>
<circle cx="403.50" cy="1305.25" r="3.804" fill="#8c564b" fill-opacity="0.7" stroke="#8c564b" stroke-opacity="0.7" stroke-width="1.389"/>
<circle cx="403.50" cy="1305.35" r="3.804" fill="#8c564b" fill-opacity="0.7" stroke="#8c564b" stroke-opacity="0.7" stroke-width="1.389"/>
<circle cx="403.50" cy="1305.30" r="3.804" fill="#8c564b" fill-opacity="0.7" stroke="#8c564b" stroke-opacity="0.7" stroke-width="1.389"/>
<circle cx="413.10" cy="1307.45" r="3.804" fill="#8c564b" fill-opacity="0.7" stroke="#8c564b" stroke-opacity="0.7" stroke-width="1.389"/>
<circle cx="409.60" cy="1329.45" r="3.804" fill="#8c564b" fill-opacity="0.7" stroke="#8c564b" stroke-opacity="0.7" stroke-width="1.389"/>
<circle cx="421.90" cy="1333.25" r="3.804" fill="#ff7f0e" fill-opacity="0.7" stroke="#ff7f0e" stroke-opacity="0.7" stroke-width="1.389"/>
<circle cx="403.20" cy="1339.05" r="3.804" fill="#8c564b" fill-opacity="0.7" stroke="#8c564b" stroke-opacity="0.7" stroke-width="1.389"/>
<circle cx="564.90" cy="1195.55" r="3.804" fill="#bcbd22" fill-opacity="0.7" stroke="#bcbd22" stroke-opacity="0.7" stroke-width="1.389"/>
<circle cx="493.60" cy="1205.75" r="3.804" fill="#bcbd22" fill-opacity="0.7" stroke="#bcbd22" stroke-opacity="0.7" stroke-width="1.389"/>
<circle cx="519.10" cy="1206.05" r="3.804" fill="#bcbd22" fill-opacity="0.7" stroke="#bcbd22" stroke-opacity="0.7" stroke-width="1.389"/>
<circle cx="468.10" cy="1244.05" r="3.804" fill="#17becf" fill-opacity="0.7" stroke="#17becf" stroke-opacity="0.7" stroke-width="1.389"/>
<circle cx="547.10" cy="1246.75" r="3.804" fill="#bcbd22" fill-opacity="0.7" stroke="#bcbd22" stroke-opacity="0.7" stroke-width="1.389"/>
<circle cx="508.40" cy="1262.65" r="3.804" fill="#bcbd22" fill-opacity="0.7" stroke="#bcbd22" stroke-opacity="0.7" stroke-width="1.389"/>
<circle cx="508.40" cy="1262.85" r="3.804" fill="#bcbd22" fill-opacity="0.7" stroke="#bcbd22" stroke-opacity="0.7" stroke-width="1.389"/>
<circle cx="552.40" cy="1271.25" r="3.804" fill="#e377c2" fill-opacity="0.7" stroke="#e377c2" stroke-opacity="0.7" stroke-width="1.389"/>
<circle cx="565.60" cy="1273.05" r="3.804" fill="#e377c2" fill-opacity="0.7" stroke="#e377c2" stroke-opacity="0.7" stroke-width="1.389"/>
<circle cx="570.80" cy="1273.45" r="3.804" fill="#bcbd22" fill-opacity="0.7" stroke="#bcbd22" stroke-opacity="0.7" stroke-width="1.389"/>
<circle cx="510.80" cy="1284.55" r="3.804" fill="#bcbd22" fill-opacity="0.7" stroke="#bcbd22" stroke-opacity="0.7" stroke-width="1.389"/>
<circle cx="455.10" cy="1297.95" r="3.804" fill="#8c564b" fill-opacity="0.7" stroke="#8c564b" stroke-opacity="0.7" stroke-width="1.389"/>
<circle cx="275.60" cy="1336.25" r="3.804" fill="#1f77b4" fill-opacity="0.7" stroke="#1f77b4" stroke-opacity="0.7" stroke-width="1.389"/>
<circle cx="265.70" cy="1354.55" r="3.804" fill="#1f77b4" fill-opacity="0.7" stroke="#1f77b4" stroke-opacity="0.7" stroke-width="1.389"/>
<circle cx="270.90" cy="1364.15" r="3.804" fill="#ff7f0e" fill-opacity="0.7" stroke="#ff7f0e" stroke-opacity="0.7" stroke-width="1.389"/>
<circle cx="276.80" cy="1362.25" r="3.804" fill="#ff7f0e" fill-opacity="0.7" stroke="#ff7f0e" stroke-opacity="0.7" stroke-width="1.389"/>
<circle cx="289.90" cy="1364.05" r="3.804" fill="#ff7f0e" fill-opacity="0.7" stroke="#ff7f0e" stroke-opacity="0.7" stroke-width="1.389"/>
<circle cx="298.30" cy="1359.45" r="3.804" fill="#ff7f0e" fill-opacity="0.7" stroke="#ff7f0e" stroke-opacity="0.7" stroke-width="1.389"/>
<circle cx="247.90" cy="1369.75" r="3.804" fill="#ff7f0e" fill-opacity="0.7" stroke="#ff7f0e" stroke-opacity="0.7" stroke-width="1.389"/>
<circle cx="267.90" cy="1369.45" r="3.804" fill="#ff7f0e" fill-opacity="0.7" stroke="#ff7f0e" stroke-opacity="0.7" stroke-width="1.389"/>
<circle cx="268.40" cy="1371.85" r="3.804" fill="#ff7f0e" fill-opacity="0.7" stroke="#ff7f0e" stroke-opacity="0.7" stroke-width="1.389"/>
<circle cx="262.00" cy="1384.45" r="3.804" fill="#ff7f0e" fill-opacity="0.7" stroke="#ff7f0e" stroke-opacity="0.7" stroke-width="1.389"/>
<circle cx="259.40" cy="1388.75" r="3.804" fill="#ff7f0e" fill-opacity="0.7" stroke="#ff7f0e" stroke-opacity="0.7" stroke-width="1.389"/>
<circle cx="273.30" cy="1385.95" r="3.804" fill="#ff7f0e" fill-opacity="0.7" stroke="#ff7f0e" stroke-opacity="0.7" stroke-width="1.389"/>
<circle cx="261.60" cy="1396.85" r="3.804" fill="#ff7f0e" fill-opacity="0.7" stroke="#ff7f0e" stroke-opacity="0.7" stroke-width="1.389"/>
<circle cx="262.00" cy="1397.70" r="3.804" fill="#ff7f0e" fill-opacity="0.7" stroke="#ff7f0e" stroke-opacity="0.7" stroke-width="1.389"/>
<circle cx="262.00" cy="1397.55" r="3.804" fill="#ff7f0e" fill-opacity="0.7" stroke="#ff7f0e" stroke-opacity="0.7" stroke-width="1.389"/>
<circle cx="277.90" cy="1403.15" r="3.804" fill="#ff7f0e" fill-opacity="0.7" stroke="#ff7f0e" stroke-opacity="0.7" stroke-width="1.389"/>
<circle cx="277.90" cy="1403.35" r="3.804" fill="#ff7f0e" fill-opacity="0.7" stroke="#ff7f0e" stroke-opacity="0.7" stroke-width="1.389"/>
<circle cx="268.90" cy="1406.75" r="3.804" fill="#ff7f0e" fill-opacity="0.7" stroke="#ff7f0e" stroke-opacity="0.7" stroke-width="1.389"/>
<circle cx="290.80" cy="1411.75" r="3.804" fill="#ff7f0e" fill-opacity="0.7" stroke="#ff7f0e" stroke-opacity="0.7" stroke-width="1.389"/>
<circle cx="288.30" cy="1441.75" r="3.804" fill="#ff7f0e" fill-opacity="0.7" stroke="#ff7f0e" stroke-opacity="0.7" stroke-width="1.389"/>
<circle cx="272.30" cy="1435.25" r="3.804" fill="#7f7f7f" fill-opacity="0.7" stroke="#7f7f7f" stroke-opacity="0.7" stroke-width="1.389"/>
<circle cx="366.90" cy="1335.85" r="3.804" fill="#bcbd22" fill-opacity="0.7" stroke="#bcbd22" stroke-opacity="0.7" stroke-width="1.389"/>
<circle cx="377.40" cy="1341.55" r="3.804" fill="#bcbd22" fill-opacity="0.7" stroke="#bcbd22" stroke-opacity="0.7" stroke-width="1.389"/>
<circle cx="388.10" cy="1359.55" r="3.804" fill="#bcbd22" fill-opacity="0.7" stroke="#bcbd22" stroke-opacity="0.7" stroke-width="1.389"/>
<line x1="88.5" y1="1027.33" x2="88.5" y2="1461.28" stroke="#b0b0b0" stroke-width="1.111"/>
<line x1="199.5" y1="1027.33" x2="199.5" y2="1461.28" stroke="#b0b0b0" stroke-width="1.111"/>
<line x1="309.5" y1="1027.33" x2="309.5" y2="1461.28" stroke="#b0b0b0" stroke-width="1.111"/>
<line x1="420.5" y1="1027.33" x2="420.5" y2="1461.28" stroke="#b0b0b0" stroke-width="1.111"/>
<line x1="530.5" y1="1027.33" x2="530.5" y2="1461.28" stroke="#b0b0b0" stroke-width="1.111"/>
<line x1="58.35" y1="1442.5" x2="595.00" y2="1442.5" stroke="#b0b0b0" stroke-width="1.111"/>
<line x1="58.35" y1="1353.5" x2="595.00" y2="1353.5" stroke="#b0b0b0" stroke-width="1.111"/>
<line x1="58.35" y1="1265.5" x2="595.00" y2="1265.5" stroke="#b0b0b0" stroke-width="1.111"/>
<line x1="58.35" y1="1177.5" x2="595.00" y2="1177.5" stroke="#b0b0b0" stroke-width="1.111"/>
<line x1="58.35" y1="1089.5" x2="595.00" y2="1089.5" stroke="#b0b0b0" stroke-width="1.111"/>
<rect x="58.5" y="1027.5" width="537.0" height="434.0" fill="none" stroke="#000" stroke-width="1.111" stroke-linecap="square"/>
<line x1="88.5" y1="1461.5" x2="88.5" y2="1466.5" stroke="#000" stroke-width="1.111"/>
<text x="72.07 82.62 91.57 95.82" y="0" transform="translate(0 1482.0) scale(1 0.987)" style="font-size:13.889px;font-family:'DejaVu Sans',sans-serif">−1.0</text>
<line x1="53.5" y1="1442.5" x2="58.5" y2="1442.5" stroke="#000" stroke-width="1.111"/>
<text x="15.07 25.62 34.57 38.82" y="0" transform="translate(0 1448.0) scale(1 0.987)" style="font-size:13.889px;font-family:'DejaVu Sans',sans-serif">−1.0</text>
<line x1="199.5" y1="1461.5" x2="199.5" y2="1466.5" stroke="#000" stroke-width="1.111"/>
<text x="182.99 193.54 202.39 206.74" y="0" transform="translate(0 1482.0) scale(1 0.987)" style="font-size:13.889px;font-family:'DejaVu Sans',sans-serif">−0.5</text>
<line x1="53.5" y1="1353.5" x2="58.5" y2="1353.5" stroke="#000" stroke-width="1.111"/>
<text x="15.99 26.54 35.39 39.74" y="0" transform="translate(0 1359.0) scale(1 0.987)" style="font-size:13.889px;font-family:'DejaVu Sans',sans-serif">−0.5</text>
<line x1="309.5" y1="1461.5" x2="309.5" y2="1466.5" stroke="#000" stroke-width="1.111"/>
<text x="298.95 306.75 311.07" y="0" transform="translate(0 1482.0) scale(1 0.987)" style="font-size:13.889px;font-family:'DejaVu Sans',sans-serif">0.0</text>
<line x1="53.5" y1="1265.5" x2="58.5" y2="1265.5" stroke="#000" stroke-width="1.111"/>
<text x="27.95 35.75 40.07" y="0" transform="translate(0 1271.0) scale(1 0.987)" style="font-size:13.889px;font-family:'DejaVu Sans',sans-serif">0.0</text>
<line x1="420.5" y1="1461.5" x2="420.5" y2="1466.5" stroke="#000" stroke-width="1.111"/>
<text x="409.95 417.75 422.10" y="0" transform="translate(0 1482.0) scale(1 0.987)" style="font-size:13.889px;font-family:'DejaVu Sans',sans-serif">0.5</text>
<line x1="53.5" y1="1177.5" x2="58.5" y2="1177.5" stroke="#000" stroke-width="1.111"/>
<text x="27.95 35.75 40.10" y="0" transform="translate(0 1183.0) scale(1 0.987)" style="font-size:13.889px;font-family:'DejaVu Sans',sans-serif">0.5</text>
<line x1="530.5" y1="1461.5" x2="530.5" y2="1466.5" stroke="#000" stroke-width="1.111"/>
<text x="520.07 527.84 532.18" y="0" transform="translate(0 1482.0) scale(1 0.987)" style="font-size:13.889px;font-family:'DejaVu Sans',sans-serif">1.0</text>
<line x1="53.5" y1="1089.5" x2="58.5" y2="1089.5" stroke="#000" stroke-width="1.111"/>
<text x="27.07 34.84 39.18" y="0" transform="translate(0 1095.0) scale(1 0.987)" style="font-size:13.889px;font-family:'DejaVu Sans',sans-serif">1.0</text>
<text x="282.97 293.82 307.77 312.77 323.46 329.87 339.82 351.49 362.88" y="0" transform="translate(0 1019.0) scale(1 1.07)" style="font-size:16.667px;font-family:'DejaVu Sans',sans-serif">K=9 (PCA)</text></g>
<g><circle cx="807.60" cy="1138.05" r="3.804" fill="#1f77b4" fill-opacity="0.7" stroke="#1f77b4" stroke-opacity="0.7" stroke-width="1.389"/>
<circle cx="703.30" cy="1151.25" r="3.804" fill="#ff7f0e" fill-opacity="0.7" stroke="#ff7f0e" stroke-opacity="0.7" stroke-width="1.389"/>
<circle cx="717.80" cy="1162.25" r="3.804" fill="#ff7f0e" fill-opacity="0.7" stroke="#ff7f0e" stroke-opacity="0.7" stroke-width="1.389"/>
<circle cx="677.80" cy="1170.05" r="3.804" fill="#ff7f0e" fill-opacity="0.7" stroke="#ff7f0e" stroke-opacity="0.7" stroke-width="1.389"/>
<circle cx="853.90" cy="1075.75" r="3.804" fill="#ff7f0e" fill-opacity="0.7" stroke="#ff7f0e" stroke-opacity="0.7" stroke-width="1.389"/>
<circle cx="985.30" cy="1053.55" r="3.804" fill="#1f77b4" fill-opacity="0.7" stroke="#1f77b4" stroke-opacity="0.7" stroke-width="1.389"/>
<circle cx="990.30" cy="1079.55" r="3.804" fill="#1f77b4" fill-opacity="0.7" stroke="#1f77b4" stroke-opacity="0.7" stroke-width="1.389"/>
<circle cx="921.50" cy="1107.05" r="3.804" fill="#2ca02c" fill-opacity="0.7" stroke="#2ca02c" stroke-opacity="0.7" stroke-width="1.389"/>
<circle cx="904.30" cy="1127.75" r="3.804" fill="#2ca02c" fill-opacity="0.7" stroke="#2ca02c" stroke-opacity="0.7" stroke-width="1.389"/>
<circle cx="889.70" cy="1138.75" r="3.804" fill="#1f77b4" fill-opacity="0.7" stroke="#1f77b4" stroke-opacity="0.7" stroke-width="1.389"/>
<circle cx="919.60" cy="1140.45" r="3.804" fill="#2ca02c" fill-opacity="0.7" stroke="#2ca02c" stroke-opacity="0.7" stroke-width="1.389"/>
<circle cx="903.80" cy="1149.25" r="3.804" fill="#2ca02c" fill-opacity="0.7" stroke="#2ca02c" stroke-opacity="0.7" stroke-width="1.389"/>
<circle cx="909.80" cy="1164.15" r="3.804" fill="#2ca02c" fill-opacity="0.7" stroke="#2ca02c" stroke-opacity="0.7" stroke-width="1.389"/>
<circle cx="1036.10" cy="1047.25" r="3.804" fill="#2ca02c" fill-opacity="0.7" stroke="#2ca02c" stroke-opacity="0.7" stroke-width="1.389"/>
<circle cx="1072.10" cy="1109.45" r="3.804" fill="#1f77b4" fill-opacity="0.7" stroke="#1f77b4" stroke-opacity="0.7" stroke-width="1.389"/>
<circle cx="691.30" cy="1191.55" r="3.804" fill="#ff7f0e" fill-opacity="0.7" stroke="#ff7f0e" stroke-opacity="0.7" stroke-width="1.389"/>
<circle cx="711.60" cy="1203.45" r="3.804" fill="#ff7f0e" fill-opacity="0.7" stroke="#ff7f0e" stroke-opacity="0.7" stroke-width="1.389"/>
<circle cx="703.50" cy="1209.95" r="3.804" fill="#ff7f0e" fill-opacity="0.7" stroke="#ff7f0e" stroke-opacity="0.7" stroke-width="1.389"/>
<circle cx="760.60" cy="1208.05" r="3.804" fill="#1f77b4" fill-opacity="0.7" stroke="#1f77b4" stroke-opacity="0.7" stroke-width="1.389"/>
<circle cx="740.70" cy="1227.85" r="3.804" fill="#1f77b4" fill-opacity="0.7" stroke="#1f77b4" stroke-opacity="0.7" stroke-width="1.389"/>
<circle cx="747.10" cy="1231.25" r="3.804" fill="#1f77b4" fill-opacity="0.7" stroke="#1f77b4" stroke-opacity="0.7" stroke-width="1.389"/>
<circle cx="748.10" cy="1234.05" r="3.804" fill="#1f77b4" fill-opacity="0.7" stroke="#1f77b4" stroke-opacity="0.7" stroke-width="1.389"/>
<circle cx="733.60" cy="1234.75" r="3.804" fill="#1f77b4" fill-opacity="0.7" stroke="#1f77b4" stroke-opacity="0.7" stroke-width="1.389"/>
<circle cx="763.00" cy="1242.85" r="3.804" fill="#1f77b4" fill-opacity="0.7" stroke="#1f77b4" stroke-opacity="0.7" stroke-width="1.389"/>
<circle cx="741.80" cy="1247.80" r="3.804" fill="#1f77b4" fill-opacity="0.7" stroke="#1f77b4" stroke-opacity="0.7" stroke-width="1.389"/>
<circle cx="741.80" cy="1247.80" r="3.804" fill="#1f77b4" fill-opacity="0.7" stroke="#1f77b4" stroke-opacity="0.7" stroke-width="1.389"/>
<circle cx="748.70" cy="1246.25" r="3.804" fill="#1f77b4" fill-opacity="0.7" stroke="#1f77b4" stroke-opacity="0.7" stroke-width="1.389"/>
<circle cx="748.60" cy="1248.35" r="3.804" fill="#1f77b4" fill-opacity="0.7" stroke="#1f77b4" stroke-opacity="0.7" stroke-width="1.389"/>
<circle cx="756.60" cy="1270.95" r="3.804" fill="#d62728" fill-opacity="0.7" stroke="#d62728" stroke-opacity="0.7" stroke-width="1.389"/>
<circle cx="816.10" cy="1314.05" r="3.804" fill="#ff7f0e" fill-opacity="0.7" stroke="#ff7f0e" stroke-opacity="0.7" stroke-width="1.389"/>
<circle cx="811.90" cy="1329.75" r="3.804" fill="#ff7f0e" fill-opacity="0.7" stroke="#ff7f0e" stroke-opacity="0.7" stroke-width="1.389"/>
<circle cx="898.20" cy="1179.35" r="3.804" fill="#bcbd22" fill-opacity="0.7" stroke="#bcbd22" stroke-opacity="0.7" stroke-width="1.389"/>
<circle cx="898.20" cy="1179.45" r="3.804" fill="#bcbd22" fill-opacity="0.7" stroke="#bcbd22" stroke-opacity="0.7" stroke-width="1.389"/>
<circle cx="909.30" cy="1176.75" r="3.804" fill="#bcbd22" fill-opacity="0.7" stroke="#bcbd22" stroke-opacity="0.7" stroke-width="1.389"/>
<circle cx="867.90" cy="1200.45" r="3.804" fill="#1f77b4" fill-opacity="0.7" stroke="#1f77b4" stroke-opacity="0.7" stroke-width="1.389"/>
<circle cx="859.30" cy="1206.95" r="3.804" fill="#1f77b4" fill-opacity="0.7" stroke="#1f77b4" stroke-opacity="0.7" stroke-width="1.389"/>
<circle cx="910.20" cy="1203.55" r="3.804" fill="#8c564b" fill-opacity="0.7" stroke="#8c564b" stroke-opacity="0.7" stroke-width="1.389"/>
<circle cx="911.00" cy="1201.15" r="3.804" fill="#7f7f7f" fill-opacity="0.7" stroke="#7f7f7f" stroke-opacity="0.7" stroke-width="1.389"/>
<circle cx="960.60" cy="1286.25" r="3.804" fill="#d62728" fill-opacity="0.7" stroke="#d62728" stroke-opacity="0.7" stroke-width="1.389"/>
<circle cx="1014.00" cy="1295.45" r="3.804" fill="#bcbd22" fill-opacity="0.7" stroke="#bcbd22" stroke-opacity="0.7" stroke-width="1.389"/>
<circle cx="998.50" cy="1305.25" r="3.804" fill="#bcbd22" fill-opacity="0.7" stroke="#bcbd22" stroke-opacity="0.7" stroke-width="1.389"/>
<circle cx="998.50" cy="1305.35" r="3.804" fill="#bcbd22" fill-opacity="0.7" stroke="#bcbd22" stroke-opacity="0.7" stroke-width="1.389"/>
<circle cx="998.50" cy="1305.30" r="3.804" fill="#bcbd22" fill-opacity="0.7" stroke="#bcbd22" stroke-opacity="0.7" stroke-width="1.389"/>
<circle cx="1008.10" cy="1307.45" r="3.804" fill="#bcbd22" fill-opacity="0.7" stroke="#bcbd22" stroke-opacity="0.7" stroke-width="1.389"/>
<circle cx="1004.60" cy="1329.45" r="3.804" fill="#d62728" fill-opacity="0.7" stroke="#d62728" stroke-opacity="0.7" stroke-width="1.389"/>
<circle cx="1016.90" cy="1333.25" r="3.804" fill="#8c564b" fill-opacity="0.7" stroke="#8c564b" stroke-opacity="0.7" stroke-width="1.389"/>
<circle cx="998.20" cy="1339.05" r="3.804" fill="#bcbd22" fill-opacity="0.7" stroke="#bcbd22" stroke-opacity="0.7" stroke-width="1.389"/>
<circle cx="1159.90" cy="1195.55" r="3.804" fill="#9467bd" fill-opacity="0.7" stroke="#9467bd" stroke-opacity="0.7" stroke-width="1.389"/>
<circle cx="1088.60" cy="1205.75" r="3.804" fill="#9467bd" fill-opacity="0.7" stroke="#9467bd" stroke-opacity="0.7" stroke-width="1.389"/>
<circle cx="1114.10" cy="1206.05" r="3.804" fill="#9467bd" fill-opacity="0.7" stroke="#9467bd" stroke-opacity="0.7" stroke-width="1.389"/>
<circle cx="1063.10" cy="1244.05" r="3.804" fill="#bcbd22" fill-opacity="0.7" stroke="#bcbd22" stroke-opacity="0.7" stroke-width="1.389"/>
<circle cx="1142.10" cy="1246.75" r="3.804" fill="#9467bd" fill-opacity="0.7" stroke="#9467bd" stroke-opacity="0.7" stroke-width="1.389"/>
<circle cx="1103.40" cy="1262.65" r="3.804" fill="#9467bd" fill-opacity="0.7" stroke="#9467bd" stroke-opacity="0.7" stroke-width="1.389"/>
<circle cx="1103.40" cy="1262.85" r="3.804" fill="#9467bd" fill-opacity="0.7" stroke="#9467bd" stroke-opacity="0.7" stroke-width="1.389"/>
<circle cx="1147.40" cy="1271.25" r="3.804" fill="#e377c2" fill-opacity="0.7" stroke="#e377c2" stroke-opacity="0.7" stroke-width="1.389"/>
<circle cx="1160.60" cy="1273.05" r="3.804" fill="#e377c2" fill-opacity="0.7" stroke="#e377c2" stroke-opacity="0.7" stroke-width="1.389"/>
<circle cx="1165.80" cy="1273.45" r="3.804" fill="#9467bd" fill-opacity="0.7" stroke="#9467bd" stroke-opacity="0.7" stroke-width="1.389"/>
<circle cx="1105.80" cy="1284.55" r="3.804" fill="#9467bd" fill-opacity="0.7" stroke="#9467bd" stroke-opacity="0.7" stroke-width="1.389"/>
<circle cx="1050.10" cy="1297.95" r="3.804" fill="#bcbd22" fill-opacity="0.7" stroke="#bcbd22" stroke-opacity="0.7" stroke-width="1.389"/>
<circle cx="870.60" cy="1336.25" r="3.804" fill="#d62728" fill-opacity="0.7" stroke="#d62728" stroke-opacity="0.7" stroke-width="1.389"/>
<circle cx="860.70" cy="1354.55" r="3.804" fill="#d62728" fill-opacity="0.7" stroke="#d62728" stroke-opacity="0.7" stroke-width="1.389"/>
<circle cx="865.90" cy="1364.15" r="3.804" fill="#d62728" fill-opacity="0.7" stroke="#d62728" stroke-opacity="0.7" stroke-width="1.389"/>
<circle cx="871.80" cy="1362.25" r="3.804" fill="#d62728" fill-opacity="0.7" stroke="#d62728" stroke-opacity="0.7" stroke-width="1.389"/>
<circle cx="884.90" cy="1364.05" r="3.804" fill="#d62728" fill-opacity="0.7" stroke="#d62728" stroke-opacity="0.7" stroke-width="1.389"/>
<circle cx="893.30" cy="1359.45" r="3.804" fill="#d62728" fill-opacity="0.7" stroke="#d62728" stroke-opacity="0.7" stroke-width="1.389"/>
<circle cx="842.90" cy="1369.75" r="3.804" fill="#d62728" fill-opacity="0.7" stroke="#d62728" stroke-opacity="0.7" stroke-width="1.389"/>
<circle cx="862.90" cy="1369.45" r="3.804" fill="#d62728" fill-opacity="0.7" stroke="#d62728" stroke-opacity="0.7" stroke-width="1.389"/>
<circle cx="863.40" cy="1371.85" r="3.804" fill="#d62728" fill-opacity="0.7" stroke="#d62728" stroke-opacity="0.7" stroke-width="1.389"/>
<circle cx="857.00" cy="1384.45" r="3.804" fill="#d62728" fill-opacity="0.7" stroke="#d62728" stroke-opacity="0.7" stroke-width="1.389"/>
<circle cx="854.40" cy="1388.75" r="3.804" fill="#d62728" fill-opacity="0.7" stroke="#d62728" stroke-opacity="0.7" stroke-width="1.389"/>
<circle cx="868.30" cy="1385.95" r="3.804" fill="#d62728" fill-opacity="0.7" stroke="#d62728" stroke-opacity="0.7" stroke-width="1.389"/>
<circle cx="856.60" cy="1396.85" r="3.804" fill="#d62728" fill-opacity="0.7" stroke="#d62728" stroke-opacity="0.7" stroke-width="1.389"/>
<circle cx="857.00" cy="1397.70" r="3.804" fill="#d62728" fill-opacity="0.7" stroke="#d62728" stroke-opacity="0.7" stroke-width="1.389"/>
<circle cx="857.00" cy="1397.55" r="3.804" fill="#d62728" fill-opacity="0.7" stroke="#d62728" stroke-opacity="0.7" stroke-width="1.389"/>
<circle cx="872.90" cy="1403.15" r="3.804" fill="#8c564b" fill-opacity="0.7" stroke="#8c564b" stroke-opacity="0.7" stroke-width="1.389"/>
<circle cx="872.90" cy="1403.35" r="3.804" fill="#8c564b" fill-opacity="0.7" stroke="#8c564b" stroke-opacity="0.7" stroke-width="1.389"/>
<circle cx="863.90" cy="1406.75" r="3.804" fill="#17becf" fill-opacity="0.7" stroke="#17becf" stroke-opacity="0.7" stroke-width="1.389"/>
<circle cx="885.80" cy="1411.75" r="3.804" fill="#8c564b" fill-opacity="0.7" stroke="#8c564b" stroke-opacity="0.7" stroke-width="1.389"/>
<circle cx="883.30" cy="1441.75" r="3.804" fill="#8c564b" fill-opacity="0.7" stroke="#8c564b" stroke-opacity="0.7" stroke-width="1.389"/>
<circle cx="867.30" cy="1435.25" r="3.804" fill="#d62728" fill-opacity="0.7" stroke="#d62728" stroke-opacity="0.7" stroke-width="1.389"/>
<circle cx="961.90" cy="1335.85" r="3.804" fill="#1f77b4" fill-opacity="0.7" stroke="#1f77b4" stroke-opacity="0.7" stroke-width="1.389"/>
<circle cx="972.40" cy="1341.55" r="3.804" fill="#1f77b4" fill-opacity="0.7" stroke="#1f77b4" stroke-opacity="0.7" stroke-width="1.389"/>
<circle cx="983.10" cy="1359.55" r="3.804" fill="#1f77b4" fill-opacity="0.7" stroke="#1f77b4" stroke-opacity="0.7" stroke-width="1.389"/>
<line x1="683.5" y1="1027.33" x2="683.5" y2="1461.28" stroke="#b0b0b0" stroke-width="1.111"/>
<line x1="794.5" y1="1027.33" x2="794.5" y2="1461.28" stroke="#b0b0b0" stroke-width="1.111"/>
<line x1="904.5" y1="1027.33" x2="904.5" y2="1461.28" stroke="#b0b0b0" stroke-width="1.111"/>
<line x1="1015.5" y1="1027.33" x2="1015.5" y2="1461.28" stroke="#b0b0b0" stroke-width="1.111"/>
<line x1="1125.5" y1="1027.33" x2="1125.5" y2="1461.28" stroke="#b0b0b0" stroke-width="1.111"/>
<line x1="653.35" y1="1442.5" x2="1190.00" y2="1442.5" stroke="#b0b0b0" stroke-width="1.111"/>
<line x1="653.35" y1="1353.5" x2="1190.00" y2="1353.5" stroke="#b0b0b0" stroke-width="1.111"/>
<line x1="653.35" y1="1265.5" x2="1190.00" y2="1265.5" stroke="#b0b0b0" stroke-width="1.111"/>
<line x1="653.35" y1="1177.5" x2="1190.00" y2="1177.5" stroke="#b0b0b0" stroke-width="1.111"/>
<line x1="653.35" y1="1089.5" x2="1190.00" y2="1089.5" stroke="#b0b0b0" stroke-width="1.111"/>
<rect x="653.5" y="1027.5" width="537.0" height="434.0" fill="none" stroke="#000" stroke-width="1.111" stroke-linecap="square"/>
<line x1="683.5" y1="1461.5" x2="683.5" y2="1466.5" stroke="#000" stroke-width="1.111"/>
<text x="667.07 677.62 686.57 690.82" y="0" transform="translate(0 1482.0) scale(1 0.987)" style="font-size:13.889px;font-family:'DejaVu Sans',sans-serif">−1.0</text>
<line x1="648.5" y1="1442.5" x2="653.5" y2="1442.5" stroke="#000" stroke-width="1.111"/>
<text x="610.07 620.62 629.57 633.82" y="0" transform="translate(0 1448.0) scale(1 0.987)" style="font-size:13.889px;font-family:'DejaVu Sans',sans-serif">−1.0</text>
<line x1="794.5" y1="1461.5" x2="794.5" y2="1466.5" stroke="#000" stroke-width="1.111"/>
<text x="777.99 788.54 797.39 801.74" y="0" transform="translate(0 1482.0) scale(1 0.987)" style="font-size:13.889px;font-family:'DejaVu Sans',sans-serif">−0.5</text>
<line x1="648.5" y1="1353.5" x2="653.5" y2="1353.5" stroke="#000" stroke-width="1.111"/>
<text x="610.99 621.54 630.39 634.74" y="0" transform="translate(0 1359.0) scale(1 0.987)" style="font-size:13.889px;font-family:'DejaVu Sans',sans-serif">−0.5</text>
<line x1="904.5" y1="1461.5" x2="904.5" y2="1466.5" stroke="#000" stroke-width="1.111"/>
<text x="893.95 901.75 906.07" y="0" transform="translate(0 1482.0) scale(1 0.987)" style="font-size:13.889px;font-family:'DejaVu Sans',sans-serif">0.0</text>
<line x1="648.5" y1="1265.5" x2="653.5" y2="1265.5" stroke="#000" stroke-width="1.111"/>
<text x="622.95 630.75 635.07" y="0" transform="translate(0 1271.0) scale(1 0.987)" style="font-size:13.889px;font-family:'DejaVu Sans',sans-serif">0.0</text>
<line x1="1015.5" y1="1461.5" x2="1015.5" y2="1466.5" stroke="#000" stroke-width="1.111"/>
<text x="1004.95 1012.75 1017.10" y="0" transform="translate(0 1482.0) scale(1 0.987)" style="font-size:13.889px;font-family:'DejaVu Sans',sans-serif">0.5</text>
<line x1="648.5" y1="1177.5" x2="653.5" y2="1177.5" stroke="#000" stroke-width="1.111"/>
<text x="622.95 630.75 635.10" y="0" transform="translate(0 1183.0) scale(1 0.987)" style="font-size:13.889px;font-family:'DejaVu Sans',sans-serif">0.5</text>
<line x1="1125.5" y1="1461.5" x2="1125.5" y2="1466.5" stroke="#000" stroke-width="1.111"/>
<text x="1115.07 1122.84 1127.18" y="0" transform="translate(0 1482.0) scale(1 0.987)" style="font-size:13.889px;font-family:'DejaVu Sans',sans-serif">1.0</text>
<line x1="648.5" y1="1089.5" x2="653.5" y2="1089.5" stroke="#000" stroke-width="1.111"/>
<text x="622.07 629.84 634.18" y="0" transform="translate(0 1095.0) scale(1 0.987)" style="font-size:13.889px;font-family:'DejaVu Sans',sans-serif">1.0</text>
<text x="872.97 883.82 897.77 908.38 913.38 924.06 930.53 940.44 952.11 963.52" y="0" transform="translate(0 1019.0) scale(1 1.07)" style="font-size:16.667px;font-family:'DejaVu Sans',sans-serif">K=10 (PCA)</text></g>
<g><circle cx="1402.60" cy="1138.05" r="3.804" fill="#8c564b" fill-opacity="0.7" stroke="#8c564b" stroke-opacity="0.7" stroke-width="1.389"/>
<circle cx="1298.30" cy="1151.25" r="3.804" fill="#8c564b" fill-opacity="0.7" stroke="#8c564b" stroke-opacity="0.7" stroke-width="1.389"/>
<circle cx="1312.80" cy="1162.25" r="3.804" fill="#8c564b" fill-opacity="0.7" stroke="#8c564b" stroke-opacity="0.7" stroke-width="1.389"/>
<circle cx="1272.80" cy="1170.05" r="3.804" fill="#8c564b" fill-opacity="0.7" stroke="#8c564b" stroke-opacity="0.7" stroke-width="1.389"/>
<circle cx="1448.90" cy="1075.75" r="3.804" fill="#bcbd22" fill-opacity="0.7" stroke="#bcbd22" stroke-opacity="0.7" stroke-width="1.389"/>
<circle cx="1580.30" cy="1053.55" r="3.804" fill="#9467bd" fill-opacity="0.7" stroke="#9467bd" stroke-opacity="0.7" stroke-width="1.389"/>
<circle cx="1585.30" cy="1079.55" r="3.804" fill="#17becf" fill-opacity="0.7" stroke="#17becf" stroke-opacity="0.7" stroke-width="1.389"/>
<circle cx="1516.50" cy="1107.05" r="3.804" fill="#2ca02c" fill-opacity="0.7" stroke="#2ca02c" stroke-opacity="0.7" stroke-width="1.389"/>
<circle cx="1499.30" cy="1127.75" r="3.804" fill="#2ca02c" fill-opacity="0.7" stroke="#2ca02c" stroke-opacity="0.7" stroke-width="1.389"/>
<circle cx="1484.70" cy="1138.75" r="3.804" fill="#7f7f7f" fill-opacity="0.7" stroke="#7f7f7f" stroke-opacity="0.7" stroke-width="1.389"/>
<circle cx="1514.60" cy="1140.45" r="3.804" fill="#1f77b4" fill-opacity="0.7" stroke="#1f77b4" stroke-opacity="0.7" stroke-width="1.389"/>
<circle cx="1498.80" cy="1149.25" r="3.804" fill="#2ca02c" fill-opacity="0.7" stroke="#2ca02c" stroke-opacity="0.7" stroke-width="1.389"/>
<circle cx="1504.80" cy="1164.15" r="3.804" fill="#2ca02c" fill-opacity="0.7" stroke="#2ca02c" stroke-opacity="0.7" stroke-width="1.389"/>
<circle cx="1631.10" cy="1047.25" r="3.804" fill="#1f77b4" fill-opacity="0.7" stroke="#1f77b4" stroke-opacity="0.7" stroke-width="1.389"/>
<circle cx="1667.10" cy="1109.45" r="3.804" fill="#9467bd" fill-opacity="0.7" stroke="#9467bd" stroke-opacity="0.7" stroke-width="1.389"/>
<circle cx="1286.30" cy="1191.55" r="3.804" fill="#8c564b" fill-opacity="0.7" stroke="#8c564b" stroke-opacity="0.7" stroke-width="1.389"/>
<circle cx="1306.60" cy="1203.45" r="3.804" fill="#8c564b" fill-opacity="0.7" stroke="#8c564b" stroke-opacity="0.7" stroke-width="1.389"/>
<circle cx="1298.50" cy="1209.95" r="3.804" fill="#8c564b" fill-opacity="0.7" stroke="#8c564b" stroke-opacity="0.7" stroke-width="1.389"/>
<circle cx="1355.60" cy="1208.05" r="3.804" fill="#d62728" fill-opacity="0.7" stroke="#d62728" stroke-opacity="0.7" stroke-width="1.389"/>
<circle cx="1335.70" cy="1227.85" r="3.804" fill="#8c564b" fill-opacity="0.7" stroke="#8c564b" stroke-opacity="0.7" stroke-width="1.389"/>
<circle cx="1342.10" cy="1231.25" r="3.804" fill="#1f77b4" fill-opacity="0.7" stroke="#1f77b4" stroke-opacity="0.7" stroke-width="1.389"/>
<circle cx="1343.10" cy="1234.05" r="3.804" fill="#1f77b4" fill-opacity="0.7" stroke="#1f77b4" stroke-opacity="0.7" stroke-width="1.389"/>
<circle cx="1328.60" cy="1234.75" r="3.804" fill="#8c564b" fill-opacity="0.7" stroke="#8c564b" stroke-opacity="0.7" stroke-width="1.389"/>
<circle cx="1358.00" cy="1242.85" r="3.804" fill="#8c564b" fill-opacity="0.7" stroke="#8c564b" stroke-opacity="0.7" stroke-width="1.389"/>
<circle cx="1336.80" cy="1247.80" r="3.804" fill="#17becf" fill-opacity="0.7" stroke="#17becf" stroke-opacity="0.7" stroke-width="1.389"/>
<circle cx="1336.80" cy="1247.80" r="3.804" fill="#17becf" fill-opacity="0.7" stroke="#17becf" stroke-opacity="0.7" stroke-width="1.389"/>
<circle cx="1343.70" cy="1246.25" r="3.804" fill="#8c564b" fill-opacity="0.7" stroke="#8c564b" stroke-opacity="0.7" stroke-width="1.389"/>
<circle cx="1343.60" cy="1248.35" r="3.804" fill="#8c564b" fill-opacity="0.7" stroke="#8c564b" stroke-opacity="0.7" stroke-width="1.389"/>
<circle cx="1351.60" cy="1270.95" r="3.804" fill="#e377c2" fill-opacity="0.7" stroke="#e377c2" stroke-opacity="0.7" stroke-width="1.389"/>
<circle cx="1411.10" cy="1314.05" r="3.804" fill="#8c564b" fill-opacity="0.7" stroke="#8c564b" stroke-opacity="0.7" stroke-width="1.389"/>
<circle cx="1406.90" cy="1329.75" r="3.804" fill="#8c564b" fill-opacity="0.7" stroke="#8c564b" stroke-opacity="0.7" stroke-width="1.389"/>
<circle cx="1493.20" cy="1179.35" r="3.804" fill="#2ca02c" fill-opacity="0.7" stroke="#2ca02c" stroke-opacity="0.7" stroke-width="1.389"/>
<circle cx="1493.20" cy="1179.45" r="3.804" fill="#2ca02c" fill-opacity="0.7" stroke="#2ca02c" stroke-opacity="0.7" stroke-width="1.389"/>
<circle cx="1504.30" cy="1176.75" r="3.804" fill="#2ca02c" fill-opacity="0.7" stroke="#2ca02c" stroke-opacity="0.7" stroke-width="1.389"/>
<circle cx="1462.90" cy="1200.45" r="3.804" fill="#8c564b" fill-opacity="0.7" stroke="#8c564b" stroke-opacity="0.7" stroke-width="1.389"/>
<circle cx="1454.30" cy="1206.95" r="3.804" fill="#8c564b" fill-opacity="0.7" stroke="#8c564b" stroke-opacity="0.7" stroke-width="1.389"/>
<circle cx="1505.20" cy="1203.55" r="3.804" fill="#ff7f0e" fill-opacity="0.7" stroke="#ff7f0e" stroke-opacity="0.7" stroke-width="1.389"/>
<circle cx="1506.00" cy="1201.15" r="3.804" fill="#ff7f0e" fill-opacity="0.7" stroke="#ff7f0e" stroke-opacity="0.7" stroke-width="1.389"/>
<circle cx="1555.60" cy="1286.25" r="3.804" fill="#e377c2" fill-opacity="0.7" stroke="#e377c2" stroke-opacity="0.7" stroke-width="1.389"/>
<circle cx="1609.00" cy="1295.45" r="3.804" fill="#2ca02c" fill-opacity="0.7" stroke="#2ca02c" stroke-opacity="0.7" stroke-width="1.389"/>
<circle cx="1593.50" cy="1305.25" r="3.804" fill="#2ca02c" fill-opacity="0.7" stroke="#2ca02c" stroke-opacity="0.7" stroke-width="1.389"/>
<circle cx="1593.50" cy="1305.35" r="3.804" fill="#2ca02c" fill-opacity="0.7" stroke="#2ca02c" stroke-opacity="0.7" stroke-width="1.389"/>
<circle cx="1593.50" cy="1305.30" r="3.804" fill="#2ca02c" fill-opacity="0.7" stroke="#2ca02c" stroke-opacity="0.7" stroke-width="1.389"/>
<circle cx="1603.10" cy="1307.45" r="3.804" fill="#2ca02c" fill-opacity="0.7" stroke="#2ca02c" stroke-opacity="0.7" stroke-width="1.389"/>
<circle cx="1599.60" cy="1329.45" r="3.804" fill="#2ca02c" fill-opacity="0.7" stroke="#2ca02c" stroke-opacity="0.7" stroke-width="1.389"/>
<circle cx="1611.90" cy="1333.25" r="3.804" fill="#ff7f0e" fill-opacity="0.7" stroke="#ff7f0e" stroke-opacity="0.7" stroke-width="1.389"/>
<circle cx="1593.20" cy="1339.05" r="3.804" fill="#2ca02c" fill-opacity="0.7" stroke="#2ca02c" stroke-opacity="0.7" stroke-width="1.389"/>
<circle cx="1754.90" cy="1195.55" r="3.804" fill="#2ca02c" fill-opacity="0.7" stroke="#2ca02c" stroke-opacity="0.7" stroke-width="1.389"/>
<circle cx="1683.60" cy="1205.75" r="3.804" fill="#2ca02c" fill-opacity="0.7" stroke="#2ca02c" stroke-opacity="0.7" stroke-width="1.389"/>
<circle cx="1709.10" cy="1206.05" r="3.804" fill="#2ca02c" fill-opacity="0.7" stroke="#2ca02c" stroke-opacity="0.7" stroke-width="1.389"/>
<circle cx="1658.10" cy="1244.05" r="3.804" fill="#2ca02c" fill-opacity="0.7" stroke="#2ca02c" stroke-opacity="0.7" stroke-width="1.389"/>
<circle cx="1737.10" cy="1246.75" r="3.804" fill="#9467bd" fill-opacity="0.7" stroke="#9467bd" stroke-opacity="0.7" stroke-width="1.389"/>
<circle cx="1698.40" cy="1262.65" r="3.804" fill="#2ca02c" fill-opacity="0.7" stroke="#2ca02c" stroke-opacity="0.7" stroke-width="1.389"/>
<circle cx="1698.40" cy="1262.85" r="3.804" fill="#2ca02c" fill-opacity="0.7" stroke="#2ca02c" stroke-opacity="0.7" stroke-width="1.389"/>
<circle cx="1742.40" cy="1271.25" r="3.804" fill="#ff7f0e" fill-opacity="0.7" stroke="#ff7f0e" stroke-opacity="0.7" stroke-width="1.389"/>
<circle cx="1755.60" cy="1273.05" r="3.804" fill="#ff7f0e" fill-opacity="0.7" stroke="#ff7f0e" stroke-opacity="0.7" stroke-width="1.389"/>
<circle cx="1760.80" cy="1273.45" r="3.804" fill="#9467bd" fill-opacity="0.7" stroke="#9467bd" stroke-opacity="0.7" stroke-width="1.389"/>
<circle cx="1700.80" cy="1284.55" r="3.804" fill="#2ca02c" fill-opacity="0.7" stroke="#2ca02c" stroke-opacity="0.7" stroke-width="1.389"/>
<circle cx="1645.10" cy="1297.95" r="3.804" fill="#2ca02c" fill-opacity="0.7" stroke="#2ca02c" stroke-opacity="0.7" stroke-width="1.389"/>
<circle cx="1465.60" cy="1336.25" r="3.804" fill="#d62728" fill-opacity="0.7" stroke="#d62728" stroke-opacity="0.7" stroke-width="1.389"/>
<circle cx="1455.70" cy="1354.55" r="3.804" fill="#d62728" fill-opacity="0.7" stroke="#d62728" stroke-opacity="0.7" stroke-width="1.389"/>
<circle cx="1460.90" cy="1364.15" r="3.804" fill="#ff7f0e" fill-opacity="0.7" stroke="#ff7f0e" stroke-opacity="0.7" stroke-width="1.389"/>
<circle cx="1466.80" cy="1362.25" r="3.804" fill="#ff7f0e" fill-opacity="0.7" stroke="#ff7f0e" stroke-opacity="0.7" stroke-width="1.389"/>
<circle cx="1479.90" cy="1364.05" r="3.804" fill="#ff7f0e" fill-opacity="0.7" stroke="#ff7f0e" stroke-opacity="0.7" stroke-width="1.389"/>
<circle cx="1488.30" cy="1359.45" r="3.804" fill="#ff7f0e" fill-opacity="0.7" stroke="#ff7f0e" stroke-opacity="0.7" stroke-width="1.389"/>
<circle cx="1437.90" cy="1369.75" r="3.804" fill="#ff7f0e" fill-opacity="0.7" stroke="#ff7f0e" stroke-opacity="0.7" stroke-width="1.389"/>
<circle cx="1457.90" cy="1369.45" r="3.804" fill="#ff7f0e" fill-opacity="0.7" stroke="#ff7f0e" stroke-opacity="0.7" stroke-width="1.389"/>
<circle cx="1458.40" cy="1371.85" r="3.804" fill="#ff7f0e" fill-opacity="0.7" stroke="#ff7f0e" stroke-opacity="0.7" stroke-width="1.389"/>
<circle cx="1452.00" cy="1384.45" r="3.804" fill="#ff7f0e" fill-opacity="0.7" stroke="#ff7f0e" stroke-opacity="0.7" stroke-width="1.389"/>
<circle cx="1449.40" cy="1388.75" r="3.804" fill="#ff7f0e" fill-opacity="0.7" stroke="#ff7f0e" stroke-opacity="0.7" stroke-width="1.389"/>
<circle cx="1463.30" cy="1385.95" r="3.804" fill="#e377c2" fill-opacity="0.7" stroke="#e377c2" stroke-opacity="0.7" stroke-width="1.389"/>
<circle cx="1451.60" cy="1396.85" r="3.804" fill="#ff7f0e" fill-opacity="0.7" stroke="#ff7f0e" stroke-opacity="0.7" stroke-width="1.389"/>
<circle cx="1452.00" cy="1397.70" r="3.804" fill="#ff7f0e" fill-opacity="0.7" stroke="#ff7f0e" stroke-opacity="0.7" stroke-width="1.389"/>
<circle cx="1452.00" cy="1397.55" r="3.804" fill="#e377c2" fill-opacity="0.7" stroke="#e377c2" stroke-opacity="0.7" stroke-width="1.389"/>
<circle cx="1467.90" cy="1403.15" r="3.804" fill="#ff7f0e" fill-opacity="0.7" stroke="#ff7f0e" stroke-opacity="0.7" stroke-width="1.389"/>
<circle cx="1467.90" cy="1403.35" r="3.804" fill="#ff7f0e" fill-opacity="0.7" stroke="#ff7f0e" stroke-opacity="0.7" stroke-width="1.389"/>
<circle cx="1458.90" cy="1406.75" r="3.804" fill="#ff7f0e" fill-opacity="0.7" stroke="#ff7f0e" stroke-opacity="0.7" stroke-width="1.389"/>
<circle cx="1480.80" cy="1411.75" r="3.804" fill="#ff7f0e" fill-opacity="0.7" stroke="#ff7f0e" stroke-opacity="0.7" stroke-width="1.389"/>
<circle cx="1478.30" cy="1441.75" r="3.804" fill="#ff7f0e" fill-opacity="0.7" stroke="#ff7f0e" stroke-opacity="0.7" stroke-width="1.389"/>
<circle cx="1462.30" cy="1435.25" r="3.804" fill="#e377c2" fill-opacity="0.7" stroke="#e377c2" stroke-opacity="0.7" stroke-width="1.389"/>
<circle cx="1556.90" cy="1335.85" r="3.804" fill="#ff7f0e" fill-opacity="0.7" stroke="#ff7f0e" stroke-opacity="0.7" stroke-width="1.389"/>
<circle cx="1567.40" cy="1341.55" r="3.804" fill="#ff7f0e" fill-opacity="0.7" stroke="#ff7f0e" stroke-opacity="0.7" stroke-width="1.389"/>
<circle cx="1578.10" cy="1359.55" r="3.804" fill="#ff7f0e" fill-opacity="0.7" stroke="#ff7f0e" stroke-opacity="0.7" stroke-width="1.389"/>
<line x1="1278.5" y1="1027.33" x2="1278.5" y2="1461.28" stroke="#b0b0b0" stroke-width="1.111"/>
<line x1="1389.5" y1="1027.33" x2="1389.5" y2="1461.28" stroke="#b0b0b0" stroke-width="1.111"/>
<line x1="1499.5" y1="1027.33" x2="1499.5" y2="1461.28" stroke="#b0b0b0" stroke-width="1.111"/>
<line x1="1610.5" y1="1027.33" x2="1610.5" y2="1461.28" stroke="#b0b0b0" stroke-width="1.111"/>
<line x1="1720.5" y1="1027.33" x2="1720.5" y2="1461.28" stroke="#b0b0b0" stroke-width="1.111"/>
<line x1="1248.35" y1="1442.5" x2="1785.00" y2="1442.5" stroke="#b0b0b0" stroke-width="1.111"/>
<line x1="1248.35" y1="1353.5" x2="1785.00" y2="1353.5" stroke="#b0b0b0" stroke-width="1.111"/>
<line x1="1248.35" y1="1265.5" x2="1785.00" y2="1265.5" stroke="#b0b0b0" stroke-width="1.111"/>
<line x1="1248.35" y1="1177.5" x2="1785.00" y2="1177.5" stroke="#b0b0b0" stroke-width="1.111"/>
<line x1="1248.35" y1="1089.5" x2="1785.00" y2="1089.5" stroke="#b0b0b0" stroke-width="1.111"/>
<rect x="1248.5" y="1027.5" width="537.0" height="434.0" fill="none" stroke="#000" stroke-width="1.111" stroke-linecap="square"/>
<line x1="1278.5" y1="1461.5" x2="1278.5" y2="1466.5" stroke="#000" stroke-width="1.111"/>
<text x="1262.07 1272.62 1281.57 1285.82" y="0" transform="translate(0 1482.0) scale(1 0.987)" style="font-size:13.889px;font-family:'DejaVu Sans',sans-serif">−1.0</text>
<line x1="1243.5" y1="1442.5" x2="1248.5" y2="1442.5" stroke="#000" stroke-width="1.111"/>
<text x="1205.07 1215.62 1224.57 1228.82" y="0" transform="translate(0 1448.0) scale(1 0.987)" style="font-size:13.889px;font-family:'DejaVu Sans',sans-serif">−1.0</text>
<line x1="1389.5" y1="1461.5" x2="1389.5" y2="1466.5" stroke="#000" stroke-width="1.111"/>
<text x="1372.99 1383.54 1392.39 1396.74" y="0" transform="translate(0 1482.0) scale(1 0.987)" style="font-size:13.889px;font-family:'DejaVu Sans',sans-serif">−0.5</text>
<line x1="1243.5" y1="1353.5" x2="1248.5" y2="1353.5" stroke="#000" stroke-width="1.111"/>
<text x="1205.99 1216.54 1225.39 1229.74" y="0" transform="translate(0 1359.0) scale(1 0.987)" style="font-size:13.889px;font-family:'DejaVu Sans',sans-serif">−0.5</text>
<line x1="1499.5" y1="1461.5" x2="1499.5" y2="1466.5" stroke="#000" stroke-width="1.111"/>
<text x="1488.95 1496.75 1501.07" y="0" transform="translate(0 1482.0) scale(1 0.987)" style="font-size:13.889px;font-family:'DejaVu Sans',sans-serif">0.0</text>
<line x1="1243.5" y1="1265.5" x2="1248.5" y2="1265.5" stroke="#000" stroke-width="1.111"/>
<text x="1217.95 1225.75 1230.07" y="0" transform="translate(0 1271.0) scale(1 0.987)" style="font-size:13.889px;font-family:'DejaVu Sans',sans-serif">0.0</text>
<line x1="1610.5" y1="1461.5" x2="1610.5" y2="1466.5" stroke="#000" stroke-width="1.111"/>
<text x="1599.95 1607.75 1612.10" y="0" transform="translate(0 1482.0) scale(1 0.987)" style="font-size:13.889px;font-family:'DejaVu Sans',sans-serif">0.5</text>
<line x1="1243.5" y1="1177.5" x2="1248.5" y2="1177.5" stroke="#000" stroke-width="1.111"/>
<text x="1217.95 1225.75 1230.10" y="0" transform="translate(0 1183.0) scale(1 0.987)" style="font-size:13.889px;font-family:'DejaVu Sans',sans-serif">0.5</text>
<line x1="1720.5" y1="1461.5" x2="1720.5" y2="1466.5" stroke="#000" stroke-width="1.111"/>
<text x="1710.07 1717.84 1722.18" y="0" transform="translate(0 1482.0) scale(1 0.987)" style="font-size:13.889px;font-family:'DejaVu Sans',sans-serif">1.0</text>
<line x1="1243.5" y1="1089.5" x2="1248.5" y2="1089.5" stroke="#000" stroke-width="1.111"/>
<text x="1217.07 1224.84 1229.18" y="0" transform="translate(0 1095.0) scale(1 0.987)" style="font-size:13.889px;font-family:'DejaVu Sans',sans-serif">1.0</text>
<text x="1467.97 1478.82 1492.77 1503.42 1508.42 1519.20 1525.61 1535.55 1547.24 1558.65" y="0" transform="translate(0 1019.0) scale(1 1.07)" style="font-size:16.667px;font-family:'DejaVu Sans',sans-serif">K=11 (PCA)</text></g>
</svg>
</body></html>
